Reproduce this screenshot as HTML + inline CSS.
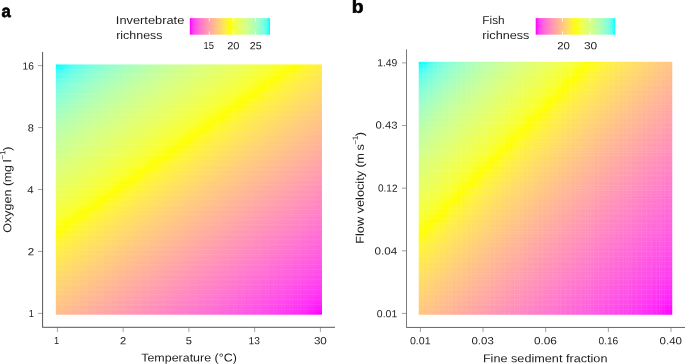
<!DOCTYPE html>
<html><head><meta charset="utf-8"><title>Figure</title>
<style>
html,body{margin:0;padding:0;background:#fff;}
body{width:685px;height:364px;position:relative;overflow:hidden;font-family:"Liberation Sans",sans-serif;color:#1c1c1c;}
.hm{position:absolute;overflow:hidden;}
.hm i{position:absolute;left:0;width:100%;display:block;}
.hm b{position:absolute;display:block;background:#fff;}
.hm u{position:absolute;left:0;top:0;width:100%;height:100%;display:block;}
.t{position:absolute;left:0;top:0;white-space:nowrap;line-height:1;transform-origin:0 0;}
.tx{position:absolute;left:0;top:0;width:685px;height:364px;filter:grayscale(1);}
sup{font-size:66%;line-height:0;vertical-align:baseline;position:relative;top:-0.8em;}
</style></head><body>
<div class="hm" style="left:55px;top:64px;width:267px;height:251px"><i style="top:0px;height:3px;background:linear-gradient(90deg,#0ff 0%,#57fff0 6.7%,#7bffe0 13.3%,#93ffd0 20%,#a6ffc0 26.7%,#b5ffb0 33.3%,#c2ffa1 40%,#ceff92 46.7%,#d8ff82 53.3%,#e0ff72 60%,#e8ff62 66.7%,#f0ff50 73.3%,#f6ff3b 80%,#fcff1d 86.7%,#ff0 89.6%,#fff927 93.3%,#ffef44 100%)"></i><i style="top:3px;height:2px;background:linear-gradient(90deg,#18fffe 0%,#60ffed 6.7%,#80ffdc 13.3%,#97ffcc 20%,#a9ffbd 26.7%,#b8ffad 33.3%,#c5ff9e 40%,#d0ff8f 46.7%,#d9ff7f 53.3%,#e2ff6f 60%,#eaff5f 66.7%,#f1ff4c 73.3%,#f8ff36 80%,#feff13 86.7%,#ff0 88.2%,#fff72e 93.3%,#ffed48 100%)"></i><i style="top:5px;height:3px;background:linear-gradient(90deg,#32fffa 0%,#68ffea 6.7%,#85ffd9 13.3%,#9bffc9 20%,#acffba 26.7%,#bfa 33.3%,#c7ff9b 40%,#d2ff8c 46.7%,#dbff7c 53.3%,#e4ff6c 60%,#ebff5b 66.7%,#f2ff48 73.3%,#f9ff31 80%,#ffff03 86.7%,#ff0 86.9%,#fff535 93.3%,#ffeb4c 100%)"></i><i style="top:8px;height:2px;background:linear-gradient(90deg,#41fff7 0%,#6fffe6 6.7%,#8affd6 13.3%,#9fffc6 20%,#b0ffb7 26.7%,#bdffa7 33.3%,#c9ff98 40%,#d4ff88 46.7%,#ddff79 53.3%,#e5ff69 60%,#edff57 66.7%,#f4ff44 73.3%,#faff2b 80%,#ff0 85.6%,#fffd12 86.7%,#fff33a 93.3%,#ffe950 100%)"></i><i style="top:10px;height:3px;background:linear-gradient(90deg,#4dfff3 0%,#75ffe3 6.7%,#8fffd3 13.3%,#a3ffc3 20%,#b2ffb3 26.7%,#c0ffa4 33.3%,#ccff95 40%,#d6ff85 46.7%,#dfff76 53.3%,#e7ff65 60%,#eeff54 66.7%,#f5ff40 73.3%,#fbff25 80%,#ff0 84.2%,#fffb1e 86.7%,#fff13f 93.3%,#ffe754 100%)"></i><i style="top:13px;height:2px;background:linear-gradient(90deg,#57fff0 0%,#7bffe0 6.7%,#93ffd0 13.3%,#a6ffc0 20%,#b5ffb0 26.7%,#c2ffa1 33.3%,#ceff92 40%,#d8ff82 46.7%,#e0ff72 53.3%,#e8ff62 60%,#f0ff50 66.7%,#f6ff3b 73.3%,#fdff1d 80%,#ff0 82.9%,#fff927 86.7%,#ffef44 93.3%,#ffe557 100%)"></i><i style="top:15px;height:3px;background:linear-gradient(90deg,#60ffed 0%,#80ffdc 6.7%,#97ffcc 13.3%,#a9ffbd 20%,#b8ffad 26.7%,#c5ff9e 33.3%,#d0ff8f 40%,#d9ff7f 46.7%,#e2ff6f 53.3%,#eaff5e 60%,#f1ff4c 66.7%,#f8ff36 73.3%,#feff13 80%,#ff0 81.5%,#fff72e 86.7%,#ffed48 93.3%,#ffe35b 100%)"></i><i style="top:18px;height:2px;background:linear-gradient(90deg,#68ffe9 0%,#86ffd9 6.7%,#9bffc9 13.3%,#acffba 20%,#bfa 26.7%,#c7ff9b 33.3%,#d2ff8b 40%,#dbff7c 46.7%,#e4ff6c 53.3%,#ebff5b 60%,#f2ff48 66.7%,#f9ff31 73.3%,#ffff03 80%,#ff0 80.2%,#fff535 86.7%,#ffeb4c 93.3%,#ffe15e 100%)"></i><i style="top:20px;height:3px;background:linear-gradient(90deg,#6fffe6 0%,#8affd6 6.7%,#9fffc6 13.3%,#b0ffb6 20%,#bdffa7 26.7%,#c9ff98 33.3%,#d4ff88 40%,#ddff79 46.7%,#e5ff69 53.3%,#edff57 60%,#f4ff44 66.7%,#faff2b 73.3%,#ff0 78.9%,#fffd12 80%,#fff33a 86.7%,#ffe950 93.3%,#ffdf61 100%)"></i><i style="top:23px;height:2px;background:linear-gradient(90deg,#75ffe3 0%,#8fffd3 6.7%,#a3ffc3 13.3%,#b3ffb3 20%,#c0ffa4 26.7%,#ccff95 33.3%,#d6ff85 40%,#dfff76 46.7%,#e7ff65 53.3%,#eeff54 60%,#f5ff40 66.7%,#fbff25 73.3%,#ff0 77.5%,#fffb1e 80%,#fff13f 86.7%,#ffe754 93.3%,#ffdd64 100%)"></i><i style="top:25px;height:3px;background:linear-gradient(90deg,#7bffe0 0%,#93ffd0 6.7%,#a6ffc0 13.3%,#b5ffb0 20%,#c2ffa1 26.7%,#ceff92 33.3%,#d8ff82 40%,#e1ff72 46.7%,#e9ff62 53.3%,#f0ff50 60%,#f6ff3b 66.7%,#fdff1d 73.3%,#ff0 76.2%,#fff927 80%,#ffef44 86.7%,#ffe557 93.3%,#ffdb67 100%)"></i><i style="top:28px;height:2px;background:linear-gradient(90deg,#81ffdc 0%,#97ffcc 6.7%,#a9ffbd 13.3%,#b8ffad 20%,#c5ff9e 26.7%,#d0ff8e 33.3%,#daff7f 40%,#e2ff6f 46.7%,#eaff5e 53.3%,#f1ff4c 60%,#f8ff36 66.7%,#feff13 73.3%,#ff0 74.9%,#fff72f 80%,#ffed48 86.7%,#ffe35b 93.3%,#ffd96a 100%)"></i><i style="top:30px;height:3px;background:linear-gradient(90deg,#86ffd9 0%,#9bffc9 6.7%,#adffba 13.3%,#bfa 20%,#c7ff9b 26.7%,#d2ff8b 33.3%,#dbff7c 40%,#e4ff6c 46.7%,#ecff5b 53.3%,#f3ff48 60%,#f9ff31 66.7%,#ffff02 73.3%,#ff0 73.5%,#fff535 80%,#ffeb4c 86.7%,#ffe15e 93.3%,#ffd76d 100%)"></i><i style="top:33px;height:2px;background:linear-gradient(90deg,#8affd6 0%,#9fffc6 6.7%,#b0ffb6 13.3%,#bdffa7 20%,#c9ff98 26.7%,#d4ff88 33.3%,#ddff79 40%,#e5ff69 46.7%,#edff57 53.3%,#f4ff44 60%,#faff2b 66.7%,#ff0 72.2%,#fffd12 73.3%,#fff33a 80%,#ffe950 86.7%,#ffdf61 93.3%,#ffd570 100%)"></i><i style="top:35px;height:3px;background:linear-gradient(90deg,#8fffd3 0%,#a3ffc3 6.7%,#b3ffb3 13.3%,#c0ffa4 20%,#ccff95 26.7%,#d6ff85 33.3%,#dfff75 40%,#e7ff65 46.7%,#eeff54 53.3%,#f5ff40 60%,#fbff25 66.7%,#ff0 70.8%,#fffb1f 73.3%,#fff13f 80%,#ffe754 86.7%,#ffdd64 93.3%,#ffd372 100%)"></i><i style="top:38px;height:2px;background:linear-gradient(90deg,#93ffcf 0%,#a6ffc0 6.7%,#b5ffb0 13.3%,#c2ffa1 20%,#ceff92 26.7%,#d8ff82 33.3%,#e1ff72 40%,#e9ff62 46.7%,#f0ff50 53.3%,#f6ff3b 60%,#fdff1d 66.7%,#ff0 69.5%,#fff928 73.3%,#ffef44 80%,#ffe558 86.7%,#ffdb67 93.3%,#ffd175 100%)"></i><i style="top:40px;height:3px;background:linear-gradient(90deg,#97ffcc 0%,#a9ffbd 6.7%,#b8ffad 13.3%,#c5ff9e 20%,#d0ff8e 26.7%,#daff7f 33.3%,#e2ff6f 40%,#eaff5e 46.7%,#f1ff4c 53.3%,#f8ff36 60%,#feff13 66.7%,#ff0 68.2%,#fff72f 73.3%,#ffed48 80%,#ffe35b 86.7%,#ffd96a 93.3%,#ffcf77 100%)"></i><i style="top:43px;height:2px;background:linear-gradient(90deg,#9bffc9 0%,#adffb9 6.7%,#bfa 13.3%,#c7ff9b 20%,#d2ff8b 26.7%,#dbff7c 33.3%,#e4ff6c 40%,#ecff5b 46.7%,#f3ff48 53.3%,#f9ff31 60%,#ffff02 66.7%,#ff0 66.8%,#fff535 73.3%,#ffeb4c 80%,#ffe15e 86.7%,#ffd76d 93.3%,#ffcd7a 100%)"></i><i style="top:45px;height:3px;background:linear-gradient(90deg,#9fffc6 0%,#b0ffb6 6.7%,#beffa7 13.3%,#c9ff98 20%,#d4ff88 26.7%,#ddff79 33.3%,#e5ff68 40%,#edff57 46.7%,#f4ff44 53.3%,#faff2b 60%,#ff0 65.5%,#fffd13 66.7%,#fff33a 73.3%,#ffe950 80%,#ffdf61 86.7%,#ffd570 93.3%,#ffcb7c 100%)"></i><i style="top:48px;height:2px;background:linear-gradient(90deg,#a3ffc3 0%,#b3ffb3 6.7%,#c0ffa4 13.3%,#ccff95 20%,#d6ff85 26.7%,#dfff75 33.3%,#e7ff65 40%,#eeff54 46.7%,#f5ff3f 53.3%,#fbff24 60%,#ff0 64.1%,#fffb1f 66.7%,#fff140 73.3%,#ffe754 80%,#ffdd64 86.7%,#ffd372 93.3%,#ffca7f 100%)"></i><i style="top:50px;height:3px;background:linear-gradient(90deg,#a6ffc0 0%,#b6ffb0 6.7%,#c3ffa1 13.3%,#ceff91 20%,#d8ff82 26.7%,#e1ff72 33.3%,#e9ff62 40%,#f0ff50 46.7%,#f6ff3b 53.3%,#fdff1d 60%,#ff0 62.8%,#fff928 66.7%,#ffef44 73.3%,#ffe558 80%,#ffdb67 86.7%,#ffd175 93.3%,#ffc881 100%)"></i><i style="top:53px;height:2px;background:linear-gradient(90deg,#a9ffbd 0%,#b8ffad 6.7%,#c5ff9e 13.3%,#d0ff8e 20%,#daff7f 26.7%,#e2ff6f 33.3%,#eaff5e 40%,#f1ff4c 46.7%,#f8ff36 53.3%,#feff12 60%,#ff0 61.5%,#fff72f 66.7%,#ffed48 73.3%,#ffe35b 80%,#ffd96a 86.7%,#ffcf77 93.3%,#ffc683 100%)"></i><i style="top:55px;height:3px;background:linear-gradient(90deg,#adffb9 0%,#bfa 6.7%,#c7ff9b 13.3%,#d2ff8b 20%,#dbff7c 26.7%,#e4ff6c 33.3%,#ecff5b 40%,#f3ff48 46.7%,#f9ff31 53.3%,#ffff02 60%,#ff0 60.1%,#fff535 66.7%,#ffeb4d 73.3%,#ffe15e 80%,#ffd76d 86.7%,#ffcd7a 93.3%,#ffc486 100%)"></i><i style="top:58px;height:2px;background:linear-gradient(90deg,#b0ffb6 0%,#beffa7 6.7%,#c9ff98 13.3%,#d4ff88 20%,#ddff79 26.7%,#e5ff68 33.3%,#edff57 40%,#f4ff44 46.7%,#faff2b 53.3%,#ff0 58.8%,#fffd13 60%,#fff33b 66.7%,#ffe950 73.3%,#ffdf61 80%,#ffd570 86.7%,#ffcb7c 93.3%,#ffc288 100%)"></i><i style="top:60px;height:3px;background:linear-gradient(90deg,#b3ffb3 0%,#c0ffa4 6.7%,#ccff94 13.3%,#d6ff85 20%,#dfff75 26.7%,#e7ff65 33.3%,#eeff53 40%,#f5ff3f 46.7%,#fbff24 53.3%,#ff0 57.5%,#fffb1f 60%,#fff140 66.7%,#ffe754 73.3%,#ffdd64 80%,#ffd372 86.7%,#ffc97f 93.3%,#ffc08a 100%)"></i><i style="top:63px;height:2px;background:linear-gradient(90deg,#b6ffb0 0%,#c3ffa1 6.7%,#ceff91 13.3%,#d8ff82 20%,#e1ff72 26.7%,#e9ff62 33.3%,#f0ff50 40%,#f6ff3b 46.7%,#fdff1c 53.3%,#ff0 56.1%,#fff928 60%,#ffef44 66.7%,#ffe558 73.3%,#ffdb67 80%,#ffd175 86.7%,#ffc881 93.3%,#ffbe8c 100%)"></i><i style="top:65px;height:3px;background:linear-gradient(90deg,#b8ffad 0%,#c5ff9e 6.7%,#d0ff8e 13.3%,#daff7f 20%,#e2ff6f 26.7%,#eaff5e 33.3%,#f1ff4c 40%,#f8ff36 46.7%,#feff12 53.3%,#ff0 54.8%,#fff72f 60%,#ffed49 66.7%,#ffe35b 73.3%,#ffd96a 80%,#ffcf77 86.7%,#ffc683 93.3%,#ffbc8e 100%)"></i><i style="top:68px;height:2px;background:linear-gradient(90deg,#bfa 0%,#c7ff9b 6.7%,#d2ff8b 13.3%,#dbff7c 20%,#e4ff6c 26.7%,#ecff5b 33.3%,#f3ff48 40%,#f9ff31 46.7%,#ffff01 53.3%,#ff0 53.4%,#fff535 60%,#ffeb4d 66.7%,#ffe15e 73.3%,#ffd76d 80%,#ffcd7a 86.7%,#ffc486 93.3%,#ffba91 100%)"></i><i style="top:70px;height:3px;background:linear-gradient(90deg,#beffa7 0%,#caff97 6.7%,#d4ff88 13.3%,#ddff78 20%,#e6ff68 26.7%,#edff57 33.3%,#f4ff44 40%,#faff2b 46.7%,#ff0 52.1%,#fffd13 53.3%,#fff33b 60%,#ffe951 66.7%,#ffdf61 73.3%,#ffd570 80%,#ffcb7c 86.7%,#ffc288 93.3%,#ffb893 100%)"></i><i style="top:73px;height:3px;background:linear-gradient(90deg,#c0ffa4 0%,#ccff94 6.7%,#d6ff85 13.3%,#dfff75 20%,#e7ff65 26.7%,#eeff53 33.3%,#f5ff3f 40%,#fbff24 46.7%,#ff0 50.8%,#fffb1f 53.3%,#fff140 60%,#ffe754 66.7%,#ffdd64 73.3%,#ffd372 80%,#ffc97f 86.7%,#ffc08a 93.3%,#ffb695 100%)"></i><i style="top:76px;height:2px;background:linear-gradient(90deg,#c3ffa1 0%,#ceff91 6.7%,#d8ff82 13.3%,#e1ff72 20%,#e9ff62 26.7%,#f0ff50 33.3%,#f7ff3b 40%,#fdff1c 46.7%,#ff0 49.4%,#fff928 53.3%,#ffef44 60%,#ffe558 66.7%,#ffdb67 73.3%,#ffd175 80%,#ffc881 86.7%,#ffbe8c 93.3%,#ffb597 100%)"></i><i style="top:78px;height:3px;background:linear-gradient(90deg,#c5ff9e 0%,#d0ff8e 6.7%,#daff7f 13.3%,#e2ff6f 20%,#eaff5e 26.7%,#f1ff4c 33.3%,#f8ff36 40%,#feff12 46.7%,#ff0 48.1%,#fff72f 53.3%,#ffed49 60%,#ffe35b 66.7%,#ffd96a 73.3%,#ffcf78 80%,#ffc684 86.7%,#ffbc8f 93.3%,#ffb399 100%)"></i><i style="top:81px;height:2px;background:linear-gradient(90deg,#c7ff9b 0%,#d2ff8b 6.7%,#dbff7c 13.3%,#e4ff6c 20%,#ecff5b 26.7%,#f3ff48 33.3%,#f9ff30 40%,#ffff01 46.7%,#ff0 46.7%,#fff535 53.3%,#ffeb4d 60%,#ffe15e 66.7%,#ffd76d 73.3%,#ffcd7a 80%,#ffc486 86.7%,#ffba91 93.3%,#ffb19b 100%)"></i><i style="top:83px;height:3px;background:linear-gradient(90deg,#caff97 0%,#d4ff88 6.7%,#ddff78 13.3%,#e6ff68 20%,#edff57 26.7%,#f4ff44 33.3%,#faff2b 40%,#ff0 45.4%,#fffd14 46.7%,#fff33b 53.3%,#ffe951 60%,#ffdf61 66.7%,#ffd570 73.3%,#ffcb7c 80%,#ffc288 86.7%,#ffb893 93.3%,#ffaf9d 100%)"></i><i style="top:86px;height:2px;background:linear-gradient(90deg,#ccff94 0%,#d6ff85 6.7%,#dfff75 13.3%,#e7ff65 20%,#eeff53 26.7%,#f5ff3f 33.3%,#fbff24 40%,#ff0 44.1%,#fffb1f 46.7%,#fff140 53.3%,#ffe754 60%,#ffdd65 66.7%,#ffd372 73.3%,#ffc97f 80%,#ffc08a 86.7%,#ffb695 93.3%,#ffad9f 100%)"></i><i style="top:88px;height:3px;background:linear-gradient(90deg,#ceff91 0%,#d8ff82 6.7%,#e1ff72 13.3%,#e9ff62 20%,#f0ff50 26.7%,#f7ff3b 33.3%,#fdff1c 40%,#ff0 42.7%,#fff928 46.7%,#ffef44 53.3%,#ffe558 60%,#ffdb67 66.7%,#ffd175 73.3%,#ffc781 80%,#ffbe8c 86.7%,#ffb597 93.3%,#ffaba1 100%)"></i><i style="top:91px;height:2px;background:linear-gradient(90deg,#d0ff8e 0%,#daff7f 6.7%,#e2ff6f 13.3%,#eaff5e 20%,#f1ff4c 26.7%,#f8ff36 33.3%,#feff12 40%,#ff0 41.4%,#fff72f 46.7%,#ffed49 53.3%,#ffe35b 60%,#ffd96a 66.7%,#ffcf78 73.3%,#ffc684 80%,#ffbc8f 86.7%,#ffb399 93.3%,#ffa9a2 100%)"></i><i style="top:93px;height:3px;background:linear-gradient(90deg,#d2ff8b 0%,#dcff7c 6.7%,#e4ff6c 13.3%,#ecff5b 20%,#f3ff48 26.7%,#f9ff30 33.3%,#ffff01 40%,#ff0 40.1%,#fff535 46.7%,#ffeb4d 53.3%,#ffe15e 60%,#ffd76d 66.7%,#ffcd7a 73.3%,#ffc486 80%,#ffba91 86.7%,#ffb19b 93.3%,#ffa7a4 100%)"></i><i style="top:96px;height:2px;background:linear-gradient(90deg,#d4ff88 0%,#ddff78 6.7%,#e6ff68 13.3%,#edff57 20%,#f4ff43 26.7%,#faff2a 33.3%,#ff0 38.7%,#fffd14 40%,#fff33b 46.7%,#ffe951 53.3%,#ffdf62 60%,#ffd570 66.7%,#ffcb7d 73.3%,#ffc288 80%,#ffb893 86.7%,#ffaf9d 93.3%,#ffa6a6 100%)"></i><i style="top:98px;height:3px;background:linear-gradient(90deg,#d6ff85 0%,#dfff75 6.7%,#e7ff65 13.3%,#efff53 20%,#f5ff3f 26.7%,#fbff24 33.3%,#ff0 37.4%,#fffb20 40%,#fff140 46.7%,#ffe754 53.3%,#ffdd65 60%,#ffd372 66.7%,#ffc97f 73.3%,#ffc08a 80%,#ffb695 86.7%,#ffad9f 93.3%,#ffa4a8 100%)"></i><i style="top:101px;height:2px;background:linear-gradient(90deg,#d8ff82 0%,#e1ff72 6.7%,#e9ff61 13.3%,#f0ff4f 20%,#f7ff3a 26.7%,#fdff1c 33.3%,#ff0 36%,#fff928 40%,#ffef44 46.7%,#ffe558 53.3%,#ffdb68 60%,#ffd175 66.7%,#ffc781 73.3%,#ffbe8c 80%,#ffb597 86.7%,#ffaba1 93.3%,#ffa2aa 100%)"></i><i style="top:103px;height:3px;background:linear-gradient(90deg,#daff7f 0%,#e2ff6f 6.7%,#eaff5e 13.3%,#f1ff4c 20%,#f8ff36 26.7%,#feff11 33.3%,#ff0 34.7%,#fff72f 40%,#ffed49 46.7%,#ffe35b 53.3%,#ffd96a 60%,#ffcf78 66.7%,#ffc684 73.3%,#ffbc8f 80%,#ffb399 86.7%,#ffa9a3 93.3%,#ffa0ac 100%)"></i><i style="top:106px;height:2px;background:linear-gradient(90deg,#dcff7b 0%,#e4ff6b 6.7%,#ecff5a 13.3%,#f3ff48 20%,#f9ff30 26.7%,#ff0 33.3%,#ff0 33.4%,#fff535 40%,#ffeb4d 46.7%,#ffe15e 53.3%,#ffd76d 60%,#ffcd7a 66.7%,#ffc486 73.3%,#ffba91 80%,#ffb19b 86.7%,#ffa7a4 93.3%,#ff9ead 100%)"></i><i style="top:108px;height:3px;background:linear-gradient(90deg,#ddff78 0%,#e6ff68 6.7%,#edff57 13.3%,#f4ff43 20%,#faff2a 26.7%,#ff0 32%,#fffd14 33.3%,#fff33b 40%,#ffe951 46.7%,#ffdf62 53.3%,#ffd570 60%,#ffcb7d 66.7%,#ffc288 73.3%,#ffb893 80%,#ffaf9d 86.7%,#ffa6a6 93.3%,#ff9caf 100%)"></i><i style="top:111px;height:2px;background:linear-gradient(90deg,#dfff75 0%,#e7ff65 6.7%,#efff53 13.3%,#f5ff3f 20%,#fbff24 26.7%,#ff0 30.7%,#fffb20 33.3%,#fff140 40%,#ffe754 46.7%,#ffdd65 53.3%,#ffd373 60%,#ffc97f 66.7%,#ffc08a 73.3%,#ffb695 80%,#ffad9f 86.7%,#ffa4a8 93.3%,#ff9ab1 100%)"></i><i style="top:113px;height:3px;background:linear-gradient(90deg,#e1ff72 0%,#e9ff61 6.7%,#f0ff4f 13.3%,#f7ff3a 20%,#fdff1c 26.7%,#ff0 29.4%,#fff928 33.3%,#ffef45 40%,#ffe558 46.7%,#ffdb68 53.3%,#ffd175 60%,#ffc781 66.7%,#ffbe8d 73.3%,#ffb597 80%,#ffaba1 86.7%,#ffa2aa 93.3%,#ff98b3 100%)"></i><i style="top:116px;height:2px;background:linear-gradient(90deg,#e2ff6f 0%,#eaff5e 6.7%,#f1ff4c 13.3%,#f8ff35 20%,#feff11 26.7%,#ff0 28%,#fff72f 33.3%,#ffed49 40%,#ffe35b 46.7%,#ffd96a 53.3%,#ffcf78 60%,#ffc584 66.7%,#ffbc8f 73.3%,#ffb399 80%,#ffa9a3 86.7%,#ffa0ac 93.3%,#ff97b4 100%)"></i><i style="top:118px;height:3px;background:linear-gradient(90deg,#e4ff6b 0%,#ecff5a 6.7%,#f3ff48 13.3%,#f9ff30 20%,#ff0 26.7%,#ff0 26.7%,#fff536 33.3%,#ffeb4d 40%,#ffe15e 46.7%,#ffd76d 53.3%,#ffcd7a 60%,#ffc486 66.7%,#ffba91 73.3%,#ffb19b 80%,#ffa7a4 86.7%,#ff9ead 93.3%,#ff95b6 100%)"></i><i style="top:121px;height:2px;background:linear-gradient(90deg,#e6ff68 0%,#edff57 6.7%,#f4ff43 13.3%,#faff2a 20%,#ff0 25.3%,#fffd14 26.7%,#fff33b 33.3%,#ffe951 40%,#ffdf62 46.7%,#ffd570 53.3%,#ffcb7d 60%,#ffc288 66.7%,#ffb893 73.3%,#ffaf9d 80%,#ffa6a6 86.7%,#ff9caf 93.3%,#ff93b8 100%)"></i><i style="top:123px;height:3px;background:linear-gradient(90deg,#e7ff65 0%,#efff53 6.7%,#f5ff3f 13.3%,#fcff24 20%,#ff0 24%,#fffb20 26.7%,#fff140 33.3%,#ffe754 40%,#ffdd65 46.7%,#ffd373 53.3%,#ffc97f 60%,#ffc08a 66.7%,#ffb695 73.3%,#ffad9f 80%,#ffa4a8 86.7%,#ff9ab1 93.3%,#ff91b9 100%)"></i><i style="top:126px;height:2px;background:linear-gradient(90deg,#e9ff61 0%,#f0ff4f 6.7%,#f7ff3a 13.3%,#fdff1c 20%,#ff0 22.7%,#fff929 26.7%,#ffef45 33.3%,#ffe558 40%,#ffdb68 46.7%,#ffd175 53.3%,#ffc781 60%,#ffbe8d 66.7%,#ffb497 73.3%,#ffaba1 80%,#ffa2aa 86.7%,#ff98b3 93.3%,#ff8fbb 100%)"></i><i style="top:128px;height:3px;background:linear-gradient(90deg,#eaff5e 0%,#f1ff4b 6.7%,#f8ff35 13.3%,#feff11 20%,#ff0 21.3%,#fff730 26.7%,#ffed49 33.3%,#ffe35b 40%,#ffd96a 46.7%,#ffcf78 53.3%,#ffc584 60%,#ffbc8f 66.7%,#ffb399 73.3%,#ffa9a3 80%,#ffa0ac 86.7%,#ff97b4 93.3%,#ff8dbd 100%)"></i><i style="top:131px;height:2px;background:linear-gradient(90deg,#ecff5a 0%,#f3ff47 6.7%,#f9ff30 13.3%,#ff0 20%,#ff0 20%,#fff536 26.7%,#ffeb4d 33.3%,#ffe15f 40%,#ffd76d 46.7%,#ffcd7a 53.3%,#ffc486 60%,#ffba91 66.7%,#ffb19b 73.3%,#ffa7a4 80%,#ff9eae 86.7%,#ff95b6 93.3%,#ff8bbe 100%)"></i><i style="top:133px;height:3px;background:linear-gradient(90deg,#edff57 0%,#f4ff43 6.7%,#faff2a 13.3%,#ff0 18.6%,#fffd15 20%,#fff33b 26.7%,#ffe951 33.3%,#ffdf62 40%,#ffd570 46.7%,#ffcb7d 53.3%,#ffc288 60%,#ffb893 66.7%,#ffaf9d 73.3%,#ffa6a6 80%,#ff9caf 86.7%,#ff93b8 93.3%,#ff89c0 100%)"></i><i style="top:136px;height:2px;background:linear-gradient(90deg,#efff53 0%,#f5ff3f 6.7%,#fcff23 13.3%,#ff0 17.3%,#fffb20 20%,#fff140 26.7%,#ffe755 33.3%,#ffdd65 40%,#ffd373 46.7%,#ffc97f 53.3%,#ffc08a 60%,#ffb695 66.7%,#ffad9f 73.3%,#ffa4a8 80%,#ff9ab1 86.7%,#ff91ba 93.3%,#ff87c2 100%)"></i><i style="top:138px;height:3px;background:linear-gradient(90deg,#f0ff4f 0%,#f7ff3a 6.7%,#fdff1b 13.3%,#ff0 16%,#fff929 20%,#ffef45 26.7%,#ffe558 33.3%,#ffdb68 40%,#ffd175 46.7%,#ffc781 53.3%,#ffbe8d 60%,#ffb497 66.7%,#ffaba1 73.3%,#ffa2aa 80%,#ff98b3 86.7%,#ff8fbb 93.3%,#ff86c3 100%)"></i><i style="top:141px;height:2px;background:linear-gradient(90deg,#f1ff4b 0%,#f8ff35 6.7%,#feff11 13.3%,#ff0 14.6%,#fff730 20%,#ffed49 26.7%,#ffe35b 33.3%,#ffd96b 40%,#ffcf78 46.7%,#ffc584 53.3%,#ffbc8f 60%,#ffb399 66.7%,#ffa9a3 73.3%,#ffa0ac 80%,#ff97b4 86.7%,#ff8dbd 93.3%,#ff84c5 100%)"></i><i style="top:143px;height:3px;background:linear-gradient(90deg,#f3ff47 0%,#f9ff30 6.7%,#ff0 13.3%,#ffff01 13.3%,#fff536 20%,#ffea4d 26.7%,#ffe15f 33.3%,#ffd76d 40%,#ffcd7a 46.7%,#ffc486 53.3%,#ffba91 60%,#ffb19b 66.7%,#ffa7a5 73.3%,#ff9eae 80%,#ff95b6 86.7%,#ff8bbe 93.3%,#ff82c6 100%)"></i><i style="top:146px;height:2px;background:linear-gradient(90deg,#f4ff43 0%,#faff2a 6.7%,#ff0 12%,#fffd15 13.3%,#fff33b 20%,#ffe851 26.7%,#ffdf62 33.3%,#ffd570 40%,#ffcb7d 46.7%,#ffc288 53.3%,#ffb893 60%,#ffaf9d 66.7%,#ffa5a6 73.3%,#ff9caf 80%,#ff93b8 86.7%,#ff89c0 93.3%,#ff80c8 100%)"></i><i style="top:148px;height:3px;background:linear-gradient(90deg,#f5ff3f 0%,#fcff23 6.7%,#ff0 10.6%,#fffb20 13.3%,#fff140 20%,#ffe655 26.7%,#ffdd65 33.3%,#ffd373 40%,#ffc97f 46.7%,#ffc08a 53.3%,#ffb695 60%,#ffad9f 66.7%,#ffa4a8 73.3%,#ff9ab1 80%,#ff91ba 86.7%,#ff87c2 93.3%,#ff7ec9 100%)"></i><i style="top:151px;height:2px;background:linear-gradient(90deg,#f7ff3a 0%,#fdff1b 6.7%,#ff0 9.3%,#fff929 13.3%,#ffef45 20%,#ffe458 26.7%,#ffdb68 33.3%,#ffd175 40%,#ffc781 46.7%,#ffbe8d 53.3%,#ffb497 60%,#ffaba1 66.7%,#ffa2aa 73.3%,#ff98b3 80%,#ff8fbb 86.7%,#ff86c3 93.3%,#ff7ccb 100%)"></i><i style="top:153px;height:3px;background:linear-gradient(90deg,#f8ff35 0%,#feff10 6.7%,#ff0 7.9%,#fff730 13.3%,#ffec49 20%,#ffe25b 26.7%,#ffd96b 33.3%,#ffcf78 40%,#ffc584 46.7%,#ffbc8f 53.3%,#ffb399 60%,#ffa9a3 66.7%,#ffa0ac 73.3%,#ff97b5 80%,#ff8dbd 86.7%,#ff84c5 93.3%,#ff7acd 100%)"></i><i style="top:156px;height:2px;background:linear-gradient(90deg,#f9ff30 0%,#ff0 6.6%,#ffff01 6.7%,#fff536 13.3%,#ffea4d 20%,#ffe15f 26.7%,#ffd76d 33.3%,#ffcd7a 40%,#ffc386 46.7%,#ffba91 53.3%,#ffb19b 60%,#ffa7a5 66.7%,#ff9eae 73.3%,#ff95b6 80%,#ff8bbe 86.7%,#ff82c6 93.3%,#ff78ce 100%)"></i><i style="top:158px;height:3px;background:linear-gradient(90deg,#faff2a 0%,#ff0 5.3%,#fffd15 6.7%,#fff33b 13.3%,#ffe851 20%,#ffdf62 26.7%,#ffd570 33.3%,#ffcb7d 40%,#ffc288 46.7%,#ffb893 53.3%,#ffaf9d 60%,#ffa5a6 66.7%,#ff9caf 73.3%,#ff93b8 80%,#ff89c0 86.7%,#ff80c8 93.3%,#ff76d0 100%)"></i><i style="top:161px;height:2px;background:linear-gradient(90deg,#fcff23 0%,#ff0 3.9%,#fffb20 6.7%,#fff040 13.3%,#ffe655 20%,#ffdd65 26.7%,#ffd373 33.3%,#ffc97f 40%,#ffc08a 46.7%,#ffb695 53.3%,#ffad9f 60%,#ffa4a8 66.7%,#ff9ab1 73.3%,#ff91ba 80%,#ff87c2 86.7%,#ff7eca 93.3%,#ff74d1 100%)"></i><i style="top:163px;height:3px;background:linear-gradient(90deg,#fdff1b 0%,#ff0 2.6%,#fff929 6.7%,#ffee45 13.3%,#ffe458 20%,#ffdb68 26.7%,#ffd175 33.3%,#ffc782 40%,#ffbe8d 46.7%,#ffb497 53.3%,#ffaba1 60%,#ffa2aa 66.7%,#ff98b3 73.3%,#ff8fbb 80%,#ff85c3 86.7%,#ff7ccb 93.3%,#ff72d3 100%)"></i><i style="top:166px;height:2px;background:linear-gradient(90deg,#feff10 0%,#ff0 1.2%,#fff730 6.7%,#ffec49 13.3%,#ffe25b 20%,#ffd96b 26.7%,#ffcf78 33.3%,#ffc584 40%,#ffbc8f 46.7%,#ffb299 53.3%,#ffa9a3 60%,#ffa0ac 66.7%,#ff96b5 73.3%,#ff8dbd 80%,#ff84c5 86.7%,#ff7acd 93.3%,#ff70d4 100%)"></i><i style="top:168px;height:3px;background:linear-gradient(90deg,#ffff02 0%,#fff536 6.7%,#ffea4d 13.3%,#ffe05f 20%,#ffd76d 26.7%,#ffcd7a 33.3%,#ffc386 40%,#ffba91 46.7%,#ffb19b 53.3%,#ffa7a5 60%,#ff9eae 66.7%,#ff95b6 73.3%,#ff8bbf 80%,#ff82c6 86.7%,#ff78ce 93.3%,#ff6ed5 100%)"></i><i style="top:171px;height:2px;background:linear-gradient(90deg,#fffd15 0%,#fff33b 6.7%,#ffe851 13.3%,#ffde62 20%,#ffd570 26.7%,#ffcb7d 33.3%,#ffc288 40%,#ffb893 46.7%,#ffaf9d 53.3%,#ffa5a6 60%,#ff9caf 66.7%,#ff93b8 73.3%,#ff89c0 80%,#ff80c8 86.7%,#ff76d0 93.3%,#ff6cd7 100%)"></i><i style="top:173px;height:3px;background:linear-gradient(90deg,#fffb21 0%,#fff040 6.7%,#ffe655 13.3%,#ffdd65 20%,#ffd373 26.7%,#ffc97f 33.3%,#ffc08b 40%,#ffb695 46.7%,#ffad9f 53.3%,#ffa4a8 60%,#ff9ab1 66.7%,#ff91ba 73.3%,#ff87c2 80%,#ff7eca 86.7%,#ff74d1 93.3%,#ff6ad8 100%)"></i><i style="top:176px;height:2px;background:linear-gradient(90deg,#fff929 0%,#ffee45 6.7%,#ffe458 13.3%,#ffdb68 20%,#ffd175 26.7%,#ffc782 33.3%,#ffbe8d 40%,#ffb497 46.7%,#ffaba1 53.3%,#ffa2aa 60%,#ff98b3 66.7%,#ff8fbb 73.3%,#ff85c3 80%,#ff7ccb 86.7%,#ff72d3 93.3%,#ff68da 100%)"></i><i style="top:178px;height:3px;background:linear-gradient(90deg,#fff730 0%,#ffec49 6.7%,#ffe25c 13.3%,#ffd96b 20%,#ffcf78 26.7%,#ffc584 33.3%,#ffbc8f 40%,#ffb299 46.7%,#ffa9a3 53.3%,#ffa0ac 60%,#ff96b5 66.7%,#ff8dbd 73.3%,#ff84c5 80%,#ff7acd 86.7%,#ff70d4 93.3%,#ff66db 100%)"></i><i style="top:181px;height:2px;background:linear-gradient(90deg,#fff536 0%,#ffea4d 6.7%,#ffe05f 13.3%,#ffd76d 20%,#ffcd7a 26.7%,#ffc386 33.3%,#ffba91 40%,#ffb19b 46.7%,#ffa7a5 53.3%,#ff9eae 60%,#ff95b6 66.7%,#ff8bbf 73.3%,#ff82c6 80%,#ff78ce 86.7%,#ff6ed5 93.3%,#ff63dd 100%)"></i><i style="top:183px;height:3px;background:linear-gradient(90deg,#fff23c 0%,#ffe851 6.7%,#ffde62 13.3%,#ffd570 20%,#ffcb7d 26.7%,#ffc288 33.3%,#ffb893 40%,#ffaf9d 46.7%,#ffa5a6 53.3%,#ff9caf 60%,#ff93b8 66.7%,#ff89c0 73.3%,#ff80c8 80%,#ff76d0 86.7%,#ff6cd7 93.3%,#ff61de 100%)"></i><i style="top:186px;height:2px;background:linear-gradient(90deg,#fff040 0%,#ffe655 6.7%,#ffdc65 13.3%,#ffd373 20%,#ffc97f 26.7%,#ffc08b 33.3%,#ffb695 40%,#ffad9f 46.7%,#ffa3a8 53.3%,#ff9ab1 60%,#ff91ba 66.7%,#ff87c2 73.3%,#ff7eca 80%,#ff74d1 86.7%,#ff6ad8 93.3%,#ff5fdf 100%)"></i><i style="top:188px;height:3px;background:linear-gradient(90deg,#ffee45 0%,#ffe458 6.7%,#ffdb68 13.3%,#ffd175 20%,#ffc782 26.7%,#ffbe8d 33.3%,#ffb497 40%,#ffaba1 46.7%,#ffa2aa 53.3%,#ff98b3 60%,#ff8fbb 66.7%,#ff85c3 73.3%,#ff7ccb 80%,#ff72d3 86.7%,#ff68da 93.3%,#ff5de1 100%)"></i><i style="top:191px;height:2px;background:linear-gradient(90deg,#ffec49 0%,#ffe25c 6.7%,#ffd96b 13.3%,#ffcf78 20%,#ffc584 26.7%,#ffbc8f 33.3%,#ffb299 40%,#ffa9a3 46.7%,#ffa0ac 53.3%,#ff96b5 60%,#ff8dbd 66.7%,#ff84c5 73.3%,#ff7acd 80%,#ff70d4 86.7%,#ff66db 93.3%,#ff5be2 100%)"></i><i style="top:193px;height:3px;background:linear-gradient(90deg,#ffea4d 0%,#ffe05f 6.7%,#ffd76e 13.3%,#ffcd7a 20%,#ffc386 26.7%,#ffba91 33.3%,#ffb19b 40%,#ffa7a5 46.7%,#ff9eae 53.3%,#ff95b6 60%,#ff8bbf 66.7%,#ff82c7 73.3%,#ff78ce 80%,#ff6ed6 86.7%,#ff63dd 93.3%,#ff58e4 100%)"></i><i style="top:196px;height:2px;background:linear-gradient(90deg,#ffe851 0%,#ffde62 6.7%,#ffd570 13.3%,#ffcb7d 20%,#ffc188 26.7%,#ffb893 33.3%,#ffaf9d 40%,#ffa5a6 46.7%,#ff9caf 53.3%,#ff93b8 60%,#ff89c0 66.7%,#ff80c8 73.3%,#ff76d0 80%,#ff6cd7 86.7%,#ff61de 93.3%,#ff56e5 100%)"></i><i style="top:198px;height:3px;background:linear-gradient(90deg,#ffe655 0%,#ffdc65 6.7%,#ffd373 13.3%,#ffc97f 20%,#ffc08b 26.7%,#ffb695 33.3%,#ffad9f 40%,#ffa3a8 46.7%,#ff9ab1 53.3%,#ff91ba 60%,#ff87c2 66.7%,#ff7eca 73.3%,#ff74d1 80%,#ff6ad8 86.7%,#ff5fdf 93.3%,#ff54e6 100%)"></i><i style="top:201px;height:2px;background:linear-gradient(90deg,#ffe458 0%,#ffda68 6.7%,#ffd175 13.3%,#ffc782 20%,#ffbe8d 26.7%,#ffb497 33.3%,#ffaba1 40%,#ffa2aa 46.7%,#ff98b3 53.3%,#ff8fbb 60%,#ff85c3 66.7%,#ff7ccb 73.3%,#ff72d3 80%,#ff68da 86.7%,#ff5de1 93.3%,#ff51e8 100%)"></i><i style="top:203px;height:3px;background:linear-gradient(90deg,#ffe25c 0%,#ffd96b 6.7%,#ffcf78 13.3%,#ffc584 20%,#ffbc8f 26.7%,#ffb299 33.3%,#ffa9a3 40%,#ffa0ac 46.7%,#ff96b5 53.3%,#ff8dbd 60%,#ff83c5 66.7%,#ff7acd 73.3%,#ff70d4 80%,#ff65db 86.7%,#ff5be2 93.3%,#ff4fe9 100%)"></i><i style="top:206px;height:2px;background:linear-gradient(90deg,#ffe05f 0%,#ffd76e 6.7%,#ffcd7a 13.3%,#ffc386 20%,#ffba91 26.7%,#ffb19b 33.3%,#ffa7a5 40%,#ff9eae 46.7%,#ff94b6 53.3%,#ff8bbf 60%,#ff82c7 66.7%,#ff78ce 73.3%,#ff6ed6 80%,#ff63dd 86.7%,#ff58e4 93.3%,#ff4cea 100%)"></i><i style="top:208px;height:3px;background:linear-gradient(90deg,#ffde62 0%,#ffd570 6.7%,#ffcb7d 13.3%,#ffc188 20%,#ffb893 26.7%,#ffaf9d 33.3%,#ffa5a7 40%,#ff9caf 46.7%,#ff93b8 53.3%,#ff89c0 60%,#ff80c8 66.7%,#ff76d0 73.3%,#ff6cd7 80%,#ff61de 86.7%,#ff56e5 93.3%,#ff4aec 100%)"></i><i style="top:211px;height:2px;background:linear-gradient(90deg,#ffdc65 0%,#ffd373 6.7%,#ffc97f 13.3%,#ffc08b 20%,#ffb695 26.7%,#ffad9f 33.3%,#ffa3a8 40%,#ff9ab1 46.7%,#ff91ba 53.3%,#ff87c2 60%,#ff7eca 66.7%,#ff74d1 73.3%,#ff6ad8 80%,#ff5fdf 86.7%,#ff54e6 93.3%,#ff47ed 100%)"></i><i style="top:213px;height:3px;background:linear-gradient(90deg,#ffda68 0%,#ffd176 6.7%,#ffc782 13.3%,#ffbe8d 20%,#ffb497 26.7%,#ffaba1 33.3%,#ffa2aa 40%,#ff98b3 46.7%,#ff8fbb 53.3%,#ff85c3 60%,#ff7ccb 66.7%,#ff72d3 73.3%,#ff68da 80%,#ff5de1 86.7%,#ff51e8 93.3%,#f4e 100%)"></i><i style="top:216px;height:2px;background:linear-gradient(90deg,#ffd86b 0%,#ffcf78 6.7%,#ffc584 13.3%,#ffbc8f 20%,#ffb299 26.7%,#ffa9a3 33.3%,#ffa0ac 40%,#ff96b5 46.7%,#ff8dbd 53.3%,#ff83c5 60%,#ff7acd 66.7%,#ff70d4 73.3%,#ff65db 80%,#ff5be2 86.7%,#ff4fe9 93.3%,#ff41ef 100%)"></i><i style="top:218px;height:3px;background:linear-gradient(90deg,#ffd76e 0%,#ffcd7b 6.7%,#ffc386 13.3%,#ffba91 20%,#ffb09b 26.7%,#ffa7a5 33.3%,#ff9eae 40%,#ff94b6 46.7%,#ff8bbf 53.3%,#ff82c7 60%,#ff78ce 66.7%,#ff6ed6 73.3%,#ff63dd 80%,#ff58e4 86.7%,#ff4cea 93.3%,#ff3ef1 100%)"></i><i style="top:221px;height:2px;background:linear-gradient(90deg,#ffd570 0%,#ffcb7d 6.7%,#ffc188 13.3%,#ffb893 20%,#ffaf9d 26.7%,#ffa5a7 33.3%,#ff9cb0 40%,#ff93b8 46.7%,#ff89c0 53.3%,#ff80c8 60%,#ff76d0 66.7%,#ff6cd7 73.3%,#ff61de 80%,#ff56e5 86.7%,#ff4aec 93.3%,#ff3bf2 100%)"></i><i style="top:223px;height:3px;background:linear-gradient(90deg,#ffd373 0%,#ffc97f 6.7%,#ffc08b 13.3%,#ffb695 20%,#ffad9f 26.7%,#ffa3a8 33.3%,#ff9ab1 40%,#ff91ba 46.7%,#ff87c2 53.3%,#ff7eca 60%,#ff74d1 66.7%,#ff6ad8 73.3%,#ff5fdf 80%,#ff54e6 86.7%,#ff47ed 93.3%,#ff38f3 100%)"></i><i style="top:226px;height:2px;background:linear-gradient(90deg,#ffd176 0%,#ffc782 6.7%,#ffbe8d 13.3%,#ffb497 20%,#ffaba1 26.7%,#ffa2aa 33.3%,#ff98b3 40%,#ff8fbb 46.7%,#ff85c3 53.3%,#ff7ccb 60%,#ff72d3 66.7%,#ff68da 73.3%,#ff5de1 80%,#ff51e8 86.7%,#f4e 93.3%,#ff35f4 100%)"></i><i style="top:228px;height:3px;background:linear-gradient(90deg,#ffcf78 0%,#ffc584 6.7%,#ffbc8f 13.3%,#ffb299 20%,#ffa9a3 26.7%,#ffa0ac 33.3%,#ff96b5 40%,#ff8dbd 46.7%,#ff83c5 53.3%,#ff7acd 60%,#ff70d4 66.7%,#ff65db 73.3%,#ff5ae2 80%,#ff4fe9 86.7%,#ff41ef 93.3%,#ff31f6 100%)"></i><i style="top:231px;height:2px;background:linear-gradient(90deg,#ffcd7b 0%,#ffc386 6.7%,#ffba91 13.3%,#ffb09b 20%,#ffa7a5 26.7%,#ff9eae 33.3%,#ff94b6 40%,#ff8bbf 46.7%,#ff81c7 53.3%,#ff78ce 60%,#ff6ed6 66.7%,#ff63dd 73.3%,#ff58e4 80%,#ff4cea 86.7%,#ff3ef1 93.3%,#ff2ef7 100%)"></i><i style="top:233px;height:3px;background:linear-gradient(90deg,#ffcb7d 0%,#ffc189 6.7%,#ffb893 13.3%,#ffaf9d 20%,#ffa5a7 26.7%,#ff9cb0 33.3%,#ff93b8 40%,#ff89c0 46.7%,#ff80c8 53.3%,#ff76d0 60%,#ff6cd7 66.7%,#ff61de 73.3%,#ff56e5 80%,#ff4aec 86.7%,#ff3bf2 93.3%,#ff29f8 100%)"></i><i style="top:236px;height:2px;background:linear-gradient(90deg,#ffc97f 0%,#ffbf8b 6.7%,#ffb695 13.3%,#ffad9f 20%,#ffa3a8 26.7%,#ff9ab1 33.3%,#ff91ba 40%,#ff87c2 46.7%,#ff7eca 53.3%,#ff74d1 60%,#ff6ad8 66.7%,#ff5fdf 73.3%,#ff53e6 80%,#ff47ed 86.7%,#ff38f3 93.3%,#ff25f9 100%)"></i><i style="top:238px;height:3px;background:linear-gradient(90deg,#ffc782 0%,#ffbe8d 6.7%,#ffb497 13.3%,#ffaba1 20%,#ffa1aa 26.7%,#ff98b3 33.3%,#ff8fbb 40%,#ff85c3 46.7%,#ff7ccb 53.3%,#ff72d3 60%,#ff67da 66.7%,#ff5de1 73.3%,#ff51e8 80%,#f4e 86.7%,#ff35f4 93.3%,#ff20fb 100%)"></i><i style="top:241px;height:2px;background:linear-gradient(90deg,#ffc584 0%,#ffbc8f 6.7%,#ffb299 13.3%,#ffa9a3 20%,#ffa0ac 26.7%,#ff96b5 33.3%,#ff8dbd 40%,#ff83c5 46.7%,#ff7acd 53.3%,#ff70d4 60%,#ff65db 66.7%,#ff5ae2 73.3%,#ff4fe9 80%,#ff41ef 86.7%,#ff31f6 93.3%,#ff1afc 100%)"></i><i style="top:243px;height:3px;background:linear-gradient(90deg,#ffc386 0%,#ffba91 6.7%,#ffb09b 13.3%,#ffa7a5 20%,#ff9eae 26.7%,#ff94b6 33.3%,#ff8bbf 40%,#ff81c7 46.7%,#ff78ce 53.3%,#ff6ed6 60%,#ff63dd 66.7%,#ff58e4 73.3%,#ff4cea 80%,#ff3ef1 86.7%,#ff2df7 93.3%,#ff13fd 100%)"></i><i style="top:246px;height:2px;background:linear-gradient(90deg,#ffc189 0%,#ffb893 6.7%,#ffaf9d 13.3%,#ffa5a7 20%,#ff9cb0 26.7%,#ff93b8 33.3%,#ff89c0 40%,#ff7fc8 46.7%,#ff76d0 53.3%,#ff6cd7 60%,#ff61de 66.7%,#ff56e5 73.3%,#ff49ec 80%,#ff3bf2 86.7%,#ff29f8 93.3%,#ff08fe 100%)"></i><i style="top:248px;height:3px;background:linear-gradient(90deg,#ffbf8b 0%,#ffb695 6.7%,#ffad9f 13.3%,#ffa3a8 20%,#ff9ab1 26.7%,#ff91ba 33.3%,#ff87c2 40%,#ff7eca 46.7%,#ff74d1 53.3%,#ff6ad8 60%,#ff5fe0 66.7%,#ff53e6 73.3%,#ff47ed 80%,#ff38f3 86.7%,#ff25f9 93.3%,#f0f 100%)"></i><b style="left:0px;top:0px;width:267px;height:1px;opacity:0.40"></b><b style="left:0px;top:250px;width:267px;height:1px;opacity:0.25"></b><b style="left:0px;top:0px;width:1px;height:251px;opacity:0.80"></b><u style="background:repeating-linear-gradient(90deg,rgba(255,255,255,0.030) 0,rgba(255,255,255,0.030) 0.6px,rgba(255,255,255,0) 0.6px,rgba(255,255,255,0) 2.662px),repeating-linear-gradient(0deg,rgba(255,255,255,0.050) 0,rgba(255,255,255,0.050) 0.6px,rgba(255,255,255,0) 0.6px,rgba(255,255,255,0) 2.503px)"></u></div>
<div class="hm" style="left:418px;top:61px;width:255px;height:254px"><i style="top:0px;height:3px;background:linear-gradient(90deg,#0ff 0%,#66ffea 6.7%,#8dffd4 13.3%,#a7ffbe 20%,#bfa 26.7%,#cbff95 33.3%,#d9ff80 40%,#e4ff6b 46.7%,#ef5 53.3%,#f6ff3b 60%,#feff0d 66.7%,#ff0 67.4%,#fff439 73.3%,#ffe754 80%,#ffdb67 86.7%,#ffcf78 93.3%,#ffc486 100%)"></i><i style="top:3px;height:3px;background:linear-gradient(90deg,#10fffe 0%,#6dffe7 6.7%,#92ffd1 13.3%,#abffbb 20%,#beffa6 26.7%,#cdff92 33.3%,#daff7d 40%,#e6ff68 46.7%,#efff52 53.3%,#f8ff36 60%,#ff0 66.5%,#ffff05 66.7%,#fff23e 73.3%,#ffe557 80%,#ffd96a 86.7%,#ffcd7a 93.3%,#ffc288 100%)"></i><i style="top:6px;height:2px;background:linear-gradient(90deg,#2efffb 0%,#74ffe4 6.7%,#96ffce 13.3%,#aeffb8 20%,#c0ffa3 26.7%,#d0ff8f 33.3%,#dcff7a 40%,#e7ff65 46.7%,#f0ff4e 53.3%,#f9ff31 60%,#ff0 65.5%,#fffd16 66.7%,#fff042 73.3%,#ffe35a 80%,#ffd76c 86.7%,#ffcc7c 93.3%,#ffc08a 100%)"></i><i style="top:8px;height:3px;background:linear-gradient(90deg,#3ffff7 0%,#7affe0 6.7%,#9affca 13.3%,#b1ffb5 20%,#c3ffa0 26.7%,#d2ff8c 33.3%,#deff77 40%,#e9ff62 46.7%,#f2ff4a 53.3%,#faff2c 60%,#ff0 64.5%,#fffb21 66.7%,#ffee46 73.3%,#ffe25d 80%,#ffd66f 86.7%,#ffca7e 93.3%,#ffbf8c 100%)"></i><i style="top:11px;height:2px;background:linear-gradient(90deg,#4cfff4 0%,#7fffdd 6.7%,#9effc7 13.3%,#b4ffb2 20%,#c5ff9d 26.7%,#d3ff89 33.3%,#e0ff74 40%,#eaff5f 46.7%,#f3ff46 53.3%,#fbff26 60%,#ff0 63.5%,#fff928 66.7%,#ffec4a 73.3%,#ffe060 80%,#ffd471 86.7%,#ffc880 93.3%,#ffbd8e 100%)"></i><i style="top:13px;height:3px;background:linear-gradient(90deg,#57fff0 0%,#85ffda 6.7%,#a1ffc4 13.3%,#b7ffaf 20%,#c7ff9a 26.7%,#d5ff86 33.3%,#e1ff71 40%,#ebff5b 46.7%,#f4ff42 53.3%,#fcff1f 60%,#ff0 62.5%,#fff72f 66.7%,#ffea4e 73.3%,#ffde63 80%,#ffd274 86.7%,#ffc782 93.3%,#ffbb8f 100%)"></i><i style="top:16px;height:3px;background:linear-gradient(90deg,#5fffed 0%,#89ffd7 6.7%,#a5ffc1 13.3%,#b9ffac 20%,#caff97 26.7%,#d7ff83 33.3%,#e3ff6e 40%,#edff58 46.7%,#f6ff3e 53.3%,#fdff16 60%,#ff0 61.5%,#fff535 66.7%,#ffe851 73.3%,#ffdc65 80%,#ffd076 86.7%,#ffc584 93.3%,#ffba91 100%)"></i><i style="top:19px;height:2px;background:linear-gradient(90deg,#67ffea 0%,#8effd3 6.7%,#a8ffbe 13.3%,#bcffa9 20%,#ccff94 26.7%,#d9ff80 33.3%,#e4ff6b 40%,#eeff54 46.7%,#f7ff3a 53.3%,#feff09 60%,#ff0 60.5%,#fff33a 66.7%,#ffe754 73.3%,#ffda68 80%,#ffcf78 86.7%,#ffc386 93.3%,#ffb893 100%)"></i><i style="top:21px;height:3px;background:linear-gradient(90deg,#6effe6 0%,#93ffd0 6.7%,#abffbb 13.3%,#beffa6 20%,#ceff91 26.7%,#dbff7d 33.3%,#e6ff68 40%,#efff51 46.7%,#f8ff35 53.3%,#ff0 59.6%,#fffe0a 60%,#fff13f 66.7%,#ffe558 73.3%,#ffd96b 80%,#ffcd7a 86.7%,#ffc288 93.3%,#ffb795 100%)"></i><i style="top:24px;height:2px;background:linear-gradient(90deg,#75ffe3 0%,#97ffcd 6.7%,#afffb8 13.3%,#c1ffa3 20%,#d0ff8e 26.7%,#ddff7a 33.3%,#e7ff64 40%,#f1ff4d 46.7%,#f9ff30 53.3%,#ff0 58.6%,#fffc19 60%,#ffef43 66.7%,#ffe35b 73.3%,#ffd76d 80%,#ffcb7d 86.7%,#ffc08a 93.3%,#ffb596 100%)"></i><i style="top:26px;height:3px;background:linear-gradient(90deg,#7bffe0 0%,#9bffca 6.7%,#b2ffb4 13.3%,#c3ffa0 20%,#d2ff8b 26.7%,#deff77 33.3%,#e9ff61 40%,#f2ff49 46.7%,#faff2b 53.3%,#ff0 57.6%,#fffa23 60%,#ffee47 66.7%,#ffe15e 73.3%,#ffd56f 80%,#ffca7f 86.7%,#ffbe8c 93.3%,#ffb398 100%)"></i><i style="top:29px;height:2px;background:linear-gradient(90deg,#81ffdc 0%,#9effc6 6.7%,#b4ffb1 13.3%,#c6ff9d 20%,#d4ff88 26.7%,#e0ff73 33.3%,#eaff5e 40%,#f3ff45 46.7%,#fbff24 53.3%,#ff0 56.6%,#fff82a 60%,#ffec4b 66.7%,#ffdf60 73.3%,#ffd372 80%,#ffc881 86.7%,#ffbd8e 93.3%,#ffb29a 100%)"></i><i style="top:31px;height:3px;background:linear-gradient(90deg,#86ffd9 0%,#a2ffc3 6.7%,#b7ffae 13.3%,#c8ff9a 20%,#d6ff85 26.7%,#e2ff70 33.3%,#ecff5a 40%,#f5ff41 46.7%,#fcff1d 53.3%,#ff0 55.6%,#fff630 60%,#ffea4e 66.7%,#ffde63 73.3%,#ffd274 80%,#ffc683 86.7%,#ffbb90 93.3%,#ffb09c 100%)"></i><i style="top:34px;height:2px;background:linear-gradient(90deg,#8bffd6 0%,#a6ffc0 6.7%,#baffab 13.3%,#caff97 20%,#d8ff82 26.7%,#e3ff6d 33.3%,#edff57 40%,#f6ff3d 46.7%,#feff14 53.3%,#ff0 54.6%,#fff536 60%,#ffe852 66.7%,#ffdc66 73.3%,#ffd076 80%,#ffc585 86.7%,#ffb992 93.3%,#ffae9d 100%)"></i><i style="top:36px;height:3px;background:linear-gradient(90deg,#8fffd3 0%,#a9ffbd 6.7%,#bdffa8 13.3%,#ccff94 20%,#d9ff7f 26.7%,#e5ff6a 33.3%,#eeff53 40%,#f7ff39 46.7%,#ffff06 53.3%,#ff0 53.7%,#fff33b 60%,#ffe655 66.7%,#ffda69 73.3%,#ffce79 80%,#ffc387 86.7%,#ffb893 93.3%,#ffad9f 100%)"></i><i style="top:39px;height:2px;background:linear-gradient(90deg,#94ffcf 0%,#acffba 6.7%,#bfffa5 13.3%,#ceff91 20%,#dbff7c 26.7%,#e6ff67 33.3%,#f0ff50 40%,#f8ff34 46.7%,#ff0 52.7%,#fffe0e 53.3%,#fff140 60%,#ffe458 66.7%,#ffd86b 73.3%,#ffcd7b 80%,#ffc189 86.7%,#ffb695 93.3%,#ffaba1 100%)"></i><i style="top:41px;height:3px;background:linear-gradient(90deg,#98ffcc 0%,#afffb7 6.7%,#c2ffa2 13.3%,#d0ff8e 20%,#ddff79 26.7%,#e8ff64 33.3%,#f1ff4c 40%,#f9ff2f 46.7%,#ff0 51.7%,#fffc1b 53.3%,#ffef44 60%,#ffe35b 66.7%,#ffd76e 73.3%,#ffcb7d 80%,#ffc08b 86.7%,#ffb597 93.3%,#ffaaa2 100%)"></i><i style="top:44px;height:2px;background:linear-gradient(90deg,#9cffc9 0%,#b2ffb4 6.7%,#c4ff9f 13.3%,#d2ff8b 20%,#dfff76 26.7%,#e9ff60 33.3%,#f2ff48 40%,#fbff29 46.7%,#ff0 50.7%,#fffa24 53.3%,#ffed48 60%,#ffe15e 66.7%,#ffd570 73.3%,#ffc97f 80%,#ffbe8c 86.7%,#ffb399 93.3%,#ffa8a4 100%)"></i><i style="top:46px;height:3px;background:linear-gradient(90deg,#9fffc6 0%,#b5ffb1 6.7%,#c6ff9c 13.3%,#d4ff87 20%,#e0ff73 26.7%,#ebff5d 33.3%,#f4ff45 40%,#fcff23 46.7%,#ff0 49.7%,#fff82c 53.3%,#ffeb4c 60%,#ffdf61 66.7%,#ffd372 73.3%,#ffc881 80%,#ffbc8e 86.7%,#ffb19a 93.3%,#ffa7a5 100%)"></i><i style="top:49px;height:2px;background:linear-gradient(90deg,#a3ffc3 0%,#b8ffae 6.7%,#c8ff99 13.3%,#d6ff84 20%,#e2ff70 26.7%,#ecff5a 33.3%,#f5ff40 40%,#fdff1b 46.7%,#ff0 48.7%,#fff632 53.3%,#ffe94f 60%,#ffdd64 66.7%,#ffd175 73.3%,#ffc683 80%,#ffbb90 86.7%,#ffb09c 93.3%,#ffa5a7 100%)"></i><i style="top:51px;height:3px;background:linear-gradient(90deg,#a6ffbf 0%,#bfa 6.7%,#cbff96 13.3%,#d8ff81 20%,#e3ff6c 26.7%,#edff56 33.3%,#f6ff3c 40%,#feff11 46.7%,#ff0 47.7%,#fff437 53.3%,#ffe853 60%,#ffdb67 66.7%,#ffd077 73.3%,#ffc485 80%,#ffb992 86.7%,#ffae9e 93.3%,#ffa3a8 100%)"></i><i style="top:54px;height:2px;background:linear-gradient(90deg,#aaffbc 0%,#bdffa7 6.7%,#cdff93 13.3%,#daff7e 20%,#e5ff69 26.7%,#efff53 33.3%,#f7ff38 40%,#ffff02 46.7%,#ff0 46.8%,#fff23c 53.3%,#ffe656 60%,#ffda69 66.7%,#ffce79 73.3%,#ffc387 80%,#ffb794 86.7%,#ffad9f 93.3%,#ffa2aa 100%)"></i><i style="top:56px;height:3px;background:linear-gradient(90deg,#adffb9 0%,#c0ffa4 6.7%,#cfff90 13.3%,#dcff7b 20%,#e7ff66 26.7%,#f0ff4f 33.3%,#f8ff33 40%,#ff0 45.8%,#fffd12 46.7%,#fff041 53.3%,#ffe459 60%,#ffd86c 66.7%,#ffcc7b 73.3%,#ffc189 80%,#ffb696 86.7%,#ffaba1 93.3%,#ffa0ab 100%)"></i><i style="top:59px;height:3px;background:linear-gradient(90deg,#b0ffb6 0%,#c2ffa1 6.7%,#d1ff8d 13.3%,#ddff78 20%,#e8ff63 26.7%,#f1ff4b 33.3%,#faff2e 40%,#ff0 44.8%,#fffb1e 46.7%,#ffef45 53.3%,#ffe25c 60%,#ffd66e 66.7%,#ffcb7d 73.3%,#ffbf8b 80%,#ffb497 86.7%,#ffa9a2 93.3%,#ff9fad 100%)"></i><i style="top:62px;height:2px;background:linear-gradient(90deg,#b3ffb3 0%,#c4ff9e 6.7%,#d3ff8a 13.3%,#dfff75 20%,#eaff60 26.7%,#f3ff48 33.3%,#fbff28 40%,#ff0 43.8%,#fff926 46.7%,#ffed49 53.3%,#ffe05f 60%,#ffd471 66.7%,#ffc980 73.3%,#ffbe8d 80%,#ffb399 86.7%,#ffa8a4 93.3%,#ff9dae 100%)"></i><i style="top:64px;height:3px;background:linear-gradient(90deg,#b6ffb0 0%,#c7ff9b 6.7%,#d5ff87 13.3%,#e1ff72 20%,#ebff5c 26.7%,#f4ff44 33.3%,#fcff21 40%,#ff0 42.8%,#fff72d 46.7%,#ffeb4c 53.3%,#ffdf62 60%,#ffd373 66.7%,#ffc782 73.3%,#ffbc8f 80%,#ffb19b 86.7%,#ffa6a6 93.3%,#ff9cb0 100%)"></i><i style="top:67px;height:2px;background:linear-gradient(90deg,#b8ffad 0%,#c9ff98 6.7%,#d7ff84 13.3%,#e2ff6f 20%,#ecff59 26.7%,#f5ff3f 33.3%,#fdff19 40%,#ff0 41.8%,#fff633 46.7%,#ffe950 53.3%,#ffdd64 60%,#ffd175 66.7%,#ffc584 73.3%,#ffba91 80%,#ffaf9c 86.7%,#ffa5a7 93.3%,#ff9ab1 100%)"></i><i style="top:69px;height:3px;background:linear-gradient(90deg,#bfa 0%,#cbff95 6.7%,#d8ff81 13.3%,#e4ff6c 20%,#ef5 26.7%,#f6ff3b 33.3%,#feff0e 40%,#ff0 40.9%,#fff438 46.7%,#ffe753 53.3%,#ffdb67 60%,#ffcf77 66.7%,#ffc486 73.3%,#ffb992 80%,#ffae9e 86.7%,#ffa3a9 93.3%,#ff99b3 100%)"></i><i style="top:72px;height:2px;background:linear-gradient(90deg,#beffa7 0%,#cdff92 6.7%,#daff7e 13.3%,#e5ff69 20%,#efff52 26.7%,#f8ff37 33.3%,#ff0 39.9%,#ffff03 40%,#fff23d 46.7%,#ffe557 53.3%,#ffd96a 60%,#ffce7a 66.7%,#ffc288 73.3%,#ffb794 80%,#ffaca0 86.7%,#ffa1aa 93.3%,#ff97b4 100%)"></i><i style="top:74px;height:3px;background:linear-gradient(90deg,#c0ffa4 0%,#cfff8f 6.7%,#dcff7b 13.3%,#e7ff65 20%,#f0ff4e 26.7%,#f9ff32 33.3%,#ff0 38.9%,#fffd15 40%,#fff042 46.7%,#ffe45a 53.3%,#ffd86c 60%,#ffcc7c 66.7%,#ffc08a 73.3%,#ffb596 80%,#ffaba1 86.7%,#ffa0ac 93.3%,#ff95b6 100%)"></i><i style="top:77px;height:2px;background:linear-gradient(90deg,#c3ffa1 0%,#d1ff8c 6.7%,#deff78 13.3%,#e8ff62 20%,#f2ff4b 26.7%,#faff2c 33.3%,#ff0 37.9%,#fffb20 40%,#ffee46 46.7%,#ffe25d 53.3%,#ffd66f 60%,#ffca7e 66.7%,#ffbf8b 73.3%,#ffb498 80%,#ffa9a3 86.7%,#ff9ead 93.3%,#ff94b7 100%)"></i><i style="top:79px;height:3px;background:linear-gradient(90deg,#c5ff9e 0%,#d3ff89 6.7%,#dfff74 13.3%,#eaff5f 20%,#f3ff47 26.7%,#fbff26 33.3%,#ff0 36.9%,#fff928 40%,#ffec4a 46.7%,#ffe060 53.3%,#ffd471 60%,#ffc880 66.7%,#ffbd8d 73.3%,#ffb299 80%,#ffa7a4 86.7%,#ff9daf 93.3%,#ff92b8 100%)"></i><i style="top:82px;height:2px;background:linear-gradient(90deg,#c7ff9b 0%,#d5ff86 6.7%,#e1ff71 13.3%,#ebff5b 20%,#f4ff43 26.7%,#fcff20 33.3%,#ff0 35.9%,#fff72e 40%,#ffea4d 46.7%,#ffde62 53.3%,#ffd273 60%,#ffc782 66.7%,#ffbc8f 73.3%,#ffb19b 80%,#ffa6a6 86.7%,#ff9bb0 93.3%,#ff91ba 100%)"></i><i style="top:84px;height:3px;background:linear-gradient(90deg,#c9ff98 0%,#d7ff83 6.7%,#e3ff6e 13.3%,#edff58 20%,#f5ff3f 26.7%,#fdff17 33.3%,#ff0 34.9%,#fff534 40%,#ffe951 46.7%,#ffdc65 53.3%,#ffd176 60%,#ffc584 66.7%,#ffba91 73.3%,#ffaf9d 80%,#ffa4a8 86.7%,#ff9ab2 93.3%,#ff8fbb 100%)"></i><i style="top:87px;height:2px;background:linear-gradient(90deg,#ccff95 0%,#d9ff80 6.7%,#e4ff6b 13.3%,#ef5 20%,#f7ff3a 26.7%,#feff0b 33.3%,#ff0 34%,#fff339 40%,#ffe754 46.7%,#ffdb68 53.3%,#ffcf78 60%,#ffc386 66.7%,#ffb893 73.3%,#ffad9e 80%,#ffa3a9 86.7%,#ff98b3 93.3%,#ff8ebc 100%)"></i><i style="top:89px;height:3px;background:linear-gradient(90deg,#ceff92 0%,#dbff7d 6.7%,#e6ff68 13.3%,#efff51 20%,#f8ff36 26.7%,#ff0 33%,#fffe08 33.3%,#fff13e 40%,#ffe557 46.7%,#ffd96a 53.3%,#ffcd7a 60%,#ffc288 66.7%,#ffb795 73.3%,#ffaca0 80%,#ffa1ab 86.7%,#ff97b4 93.3%,#ff8cbe 100%)"></i><i style="top:92px;height:2px;background:linear-gradient(90deg,#d0ff8f 0%,#dcff7a 6.7%,#e7ff65 13.3%,#f1ff4d 20%,#f9ff31 26.7%,#ff0 32%,#fffc18 33.3%,#fff043 40%,#ffe35a 46.7%,#ffd76d 53.3%,#ffcb7c 60%,#ffc08a 66.7%,#ffb596 73.3%,#ffaaa2 80%,#ffa0ac 86.7%,#ff95b6 93.3%,#ff8bbf 100%)"></i><i style="top:94px;height:3px;background:linear-gradient(90deg,#d2ff8b 0%,#deff77 6.7%,#e9ff61 13.3%,#f2ff4a 20%,#faff2b 26.7%,#ff0 31%,#fffa22 33.3%,#ffee47 40%,#ffe15d 46.7%,#ffd56f 53.3%,#ffca7e 60%,#ffbe8c 66.7%,#ffb398 73.3%,#ffa9a3 80%,#ff9eae 86.7%,#ff94b7 93.3%,#ff89c0 100%)"></i><i style="top:97px;height:2px;background:linear-gradient(90deg,#d4ff88 0%,#e0ff74 6.7%,#eaff5e 13.3%,#f3ff46 20%,#fbff25 26.7%,#ff0 30%,#fff929 33.3%,#ffec4a 40%,#ffe060 46.7%,#ffd472 53.3%,#ffc881 60%,#ffbd8e 66.7%,#ffb29a 73.3%,#ffa7a5 80%,#ff9caf 86.7%,#ff92b9 93.3%,#ff88c2 100%)"></i><i style="top:99px;height:3px;background:linear-gradient(90deg,#d6ff85 0%,#e1ff71 6.7%,#ecff5b 13.3%,#f4ff42 20%,#fcff1e 26.7%,#ff0 29%,#fff730 33.3%,#ffea4e 40%,#ffde63 46.7%,#ffd274 53.3%,#ffc683 60%,#ffbb90 66.7%,#ffb09b 73.3%,#ffa5a6 80%,#ff9bb0 86.7%,#ff90ba 93.3%,#ff86c3 100%)"></i><i style="top:102px;height:3px;background:linear-gradient(90deg,#d8ff82 0%,#e3ff6d 6.7%,#edff57 13.3%,#f6ff3e 20%,#fdff15 26.7%,#ff0 28.1%,#fff535 33.3%,#ffe852 40%,#ffdc66 46.7%,#ffd076 53.3%,#ffc585 60%,#ffba91 66.7%,#ffaf9d 73.3%,#ffa4a8 80%,#ff99b2 86.7%,#ff8fbb 93.3%,#ff85c4 100%)"></i><i style="top:105px;height:2px;background:linear-gradient(90deg,#d9ff7f 0%,#e5ff6a 6.7%,#eeff54 13.3%,#f7ff39 20%,#ffff07 26.7%,#ff0 27.1%,#fff33b 33.3%,#ffe655 40%,#ffda68 46.7%,#ffce78 53.3%,#ffc387 60%,#ffb893 66.7%,#ffad9f 73.3%,#ffa2a9 80%,#ff98b3 86.7%,#ff8dbd 93.3%,#ff83c5 100%)"></i><i style="top:107px;height:3px;background:linear-gradient(90deg,#dbff7c 0%,#e6ff67 6.7%,#f0ff50 13.3%,#f8ff34 20%,#ff0 26.1%,#fffe0d 26.7%,#fff13f 33.3%,#ffe558 40%,#ffd86b 46.7%,#ffcd7b 53.3%,#ffc189 60%,#ffb695 66.7%,#ffaba0 73.3%,#ffa1ab 80%,#ff96b5 86.7%,#ff8cbe 93.3%,#ff81c7 100%)"></i><i style="top:110px;height:2px;background:linear-gradient(90deg,#ddff79 0%,#e8ff64 6.7%,#f1ff4d 13.3%,#f9ff2f 20%,#ff0 25.1%,#fffc1a 26.7%,#ffef43 33.3%,#ffe35b 40%,#ffd76d 46.7%,#ffcb7d 53.3%,#ffc08a 60%,#ffb597 66.7%,#ffaaa2 73.3%,#ff9fac 80%,#ff95b6 86.7%,#ff8abf 93.3%,#ff80c8 100%)"></i><i style="top:112px;height:3px;background:linear-gradient(90deg,#dfff76 0%,#e9ff61 6.7%,#f2ff49 13.3%,#faff2a 20%,#ff0 24.1%,#fffa24 26.7%,#ffed47 33.3%,#ffe15e 40%,#ffd570 46.7%,#ffc97f 53.3%,#ffbe8c 60%,#ffb398 66.7%,#ffa8a4 73.3%,#ff9eae 80%,#ff93b8 86.7%,#ff89c1 93.3%,#ff7ec9 100%)"></i><i style="top:115px;height:2px;background:linear-gradient(90deg,#e0ff73 0%,#eaff5d 6.7%,#f4ff45 13.3%,#fcff23 20%,#ff0 23.1%,#fff82b 26.7%,#ffeb4b 33.3%,#ffdf61 40%,#ffd372 46.7%,#ffc881 53.3%,#ffbc8e 60%,#ffb19a 66.7%,#ffa7a5 73.3%,#ff9caf 80%,#ff92b9 86.7%,#ff87c2 93.3%,#ff7dca 100%)"></i><i style="top:117px;height:3px;background:linear-gradient(90deg,#e2ff70 0%,#ecff5a 6.7%,#f5ff41 13.3%,#fdff1c 20%,#ff0 22.2%,#fff631 26.7%,#ffea4f 33.3%,#ffdd64 40%,#ffd274 46.7%,#ffc683 53.3%,#ffbb90 60%,#ffb09c 66.7%,#ffa5a7 73.3%,#ff9bb1 80%,#ff90ba 86.7%,#ff86c3 93.3%,#ff7bcb 100%)"></i><i style="top:120px;height:2px;background:linear-gradient(90deg,#e3ff6d 0%,#edff56 6.7%,#f6ff3d 13.3%,#feff12 20%,#ff0 21.2%,#fff437 26.7%,#ffe852 33.3%,#ffdc66 40%,#ffd077 46.7%,#ffc485 53.3%,#ffb992 60%,#ffae9d 66.7%,#ffa4a8 73.3%,#ff99b2 80%,#ff8fbc 86.7%,#ff84c4 93.3%,#ff7acd 100%)"></i><i style="top:122px;height:3px;background:linear-gradient(90deg,#e5ff6a 0%,#efff53 6.7%,#f7ff38 13.3%,#ffff03 20%,#ff0 20.2%,#fff23c 26.7%,#ffe656 33.3%,#ffda69 40%,#ffce79 46.7%,#ffc387 53.3%,#ffb894 60%,#ffad9f 66.7%,#ffa2aa 73.3%,#ff97b4 80%,#ff8dbd 86.7%,#ff83c6 93.3%,#ff78ce 100%)"></i><i style="top:125px;height:2px;background:linear-gradient(90deg,#e6ff66 0%,#f0ff4f 6.7%,#f8ff33 13.3%,#ff0 19.2%,#fffd11 20%,#fff140 26.7%,#ffe459 33.3%,#ffd86b 40%,#ffcc7b 46.7%,#ffc189 53.3%,#ffb695 60%,#ffaba1 66.7%,#ffa0ab 73.3%,#ff96b5 80%,#ff8bbe 86.7%,#ff81c7 93.3%,#ff77cf 100%)"></i><i style="top:127px;height:3px;background:linear-gradient(90deg,#e8ff63 0%,#f1ff4c 6.7%,#faff2e 13.3%,#ff0 18.2%,#fffb1d 20%,#ffef44 26.7%,#ffe25c 33.3%,#ffd66e 40%,#ffcb7d 46.7%,#ffbf8b 53.3%,#ffb497 60%,#ffa9a2 66.7%,#ff9fad 73.3%,#ff94b6 80%,#ff8ac0 86.7%,#ff80c8 93.3%,#ff75d0 100%)"></i><i style="top:130px;height:2px;background:linear-gradient(90deg,#e9ff60 0%,#f3ff48 6.7%,#fbff28 13.3%,#ff0 17.2%,#fffa25 20%,#ffed48 26.7%,#ffe15f 33.3%,#ffd570 40%,#ffc97f 46.7%,#ffbe8d 53.3%,#ffb399 60%,#ffa8a4 66.7%,#ff9dae 73.3%,#ff93b8 80%,#ff88c1 86.7%,#ff7ec9 93.3%,#ff74d1 100%)"></i><i style="top:132px;height:3px;background:linear-gradient(90deg,#ebff5d 0%,#f4ff44 6.7%,#fcff22 13.3%,#ff0 16.2%,#fff82c 20%,#ffeb4c 26.7%,#ffdf61 33.3%,#ffd373 40%,#ffc781 46.7%,#ffbc8f 53.3%,#ffb19b 60%,#ffa6a6 66.7%,#ff9cb0 73.3%,#ff91b9 80%,#ff87c2 86.7%,#ff7ccb 93.3%,#ff72d3 100%)"></i><i style="top:135px;height:2px;background:linear-gradient(90deg,#ecff59 0%,#f5ff40 6.7%,#fdff1a 13.3%,#ff0 15.3%,#fff633 20%,#ffe950 26.7%,#ffdd64 33.3%,#ffd175 40%,#ffc683 46.7%,#ffba90 53.3%,#ffaf9c 60%,#ffa5a7 66.7%,#ff9ab1 73.3%,#ff90bb 80%,#ff85c3 86.7%,#ff7bcc 93.3%,#ff70d4 100%)"></i><i style="top:137px;height:3px;background:linear-gradient(90deg,#eeff56 0%,#f6ff3c 6.7%,#feff10 13.3%,#ff0 14.3%,#fff438 20%,#ffe753 26.7%,#ffdb67 33.3%,#ffcf77 40%,#ffc485 46.7%,#ffb992 53.3%,#ffae9e 60%,#ffa3a9 66.7%,#ff99b3 73.3%,#ff8ebc 80%,#ff84c5 86.7%,#ff79cd 93.3%,#ff6fd5 100%)"></i><i style="top:140px;height:2px;background:linear-gradient(90deg,#efff52 0%,#f7ff37 6.7%,#ff0 13.3%,#ffff01 13.3%,#fff23d 20%,#ffe656 26.7%,#ffd969 33.3%,#ffce79 40%,#ffc287 46.7%,#ffb794 53.3%,#ffaca0 60%,#ffa2aa 66.7%,#ff97b4 73.3%,#ff8dbd 80%,#ff82c6 86.7%,#ff78ce 93.3%,#ff6dd6 100%)"></i><i style="top:142px;height:3px;background:linear-gradient(90deg,#f0ff4f 0%,#f9ff32 6.7%,#ff0 12.3%,#fffd14 13.3%,#fff041 20%,#ffe459 26.7%,#ffd86c 33.3%,#ffcc7c 40%,#ffc189 46.7%,#ffb696 53.3%,#ffaba1 60%,#ffa0ac 66.7%,#ff96b5 73.3%,#ff8bbf 80%,#ff81c7 86.7%,#ff76cf 93.3%,#ff6cd7 100%)"></i><i style="top:145px;height:3px;background:linear-gradient(90deg,#f2ff4b 0%,#faff2d 6.7%,#ff0 11.3%,#fffb1f 13.3%,#ffee45 20%,#ffe25c 26.7%,#ffd66e 33.3%,#ffca7e 40%,#ffbf8b 46.7%,#ffb498 53.3%,#ffa9a3 60%,#ff9fad 66.7%,#ff94b7 73.3%,#ff8ac0 80%,#ff7fc8 86.7%,#ff75d0 93.3%,#ff6ad8 100%)"></i><i style="top:148px;height:2px;background:linear-gradient(90deg,#f3ff47 0%,#fbff27 6.7%,#ff0 10.3%,#fff927 13.3%,#ffec49 20%,#ffe05f 26.7%,#ffd471 33.3%,#ffc980 40%,#ffbd8d 46.7%,#ffb299 53.3%,#ffa8a4 60%,#ff9daf 66.7%,#ff92b8 73.3%,#ff88c1 80%,#ff7eca 86.7%,#ff73d2 93.3%,#ff68d9 100%)"></i><i style="top:150px;height:3px;background:linear-gradient(90deg,#f4ff43 0%,#fcff20 6.7%,#ff0 9.4%,#fff72e 13.3%,#ffeb4d 20%,#ffde62 26.7%,#ffd273 33.3%,#ffc782 40%,#ffbc8f 46.7%,#ffb19b 53.3%,#ffa6a6 60%,#ff9bb0 66.7%,#ff91ba 73.3%,#ff87c2 80%,#ff7ccb 86.7%,#ff72d3 93.3%,#ff67da 100%)"></i><i style="top:153px;height:2px;background:linear-gradient(90deg,#f5ff3f 0%,#fdff18 6.7%,#ff0 8.4%,#fff534 13.3%,#ffe950 20%,#ffdd65 26.7%,#ffd176 33.3%,#ffc584 40%,#ffba91 46.7%,#ffaf9d 53.3%,#ffa4a7 60%,#ff9ab1 66.7%,#ff8fbb 73.3%,#ff85c4 80%,#ff7bcc 86.7%,#ff70d4 93.3%,#ff65db 100%)"></i><i style="top:155px;height:3px;background:linear-gradient(90deg,#f7ff3b 0%,#feff0c 6.7%,#ff0 7.4%,#fff339 13.3%,#ffe754 20%,#ffdb67 26.7%,#ffcf78 33.3%,#ffc486 40%,#ffb893 46.7%,#ffae9e 53.3%,#ffa3a9 60%,#ff98b3 66.7%,#ff8ebc 73.3%,#ff83c5 80%,#ff79cd 86.7%,#ff6ed5 93.3%,#ff64dc 100%)"></i><i style="top:158px;height:2px;background:linear-gradient(90deg,#f8ff36 0%,#ff0 6.4%,#fffe06 6.7%,#fff23e 13.3%,#ffe557 20%,#ffd96a 26.7%,#ffcd7a 33.3%,#ffc288 40%,#ffb794 46.7%,#ffaca0 53.3%,#ffa1aa 60%,#ff97b4 66.7%,#ff8cbe 73.3%,#ff82c6 80%,#ff77ce 86.7%,#ff6dd6 93.3%,#ff62dd 100%)"></i><i style="top:160px;height:3px;background:linear-gradient(90deg,#f9ff31 0%,#ff0 5.4%,#fffd17 6.7%,#fff042 13.3%,#ffe35a 20%,#ffd76d 26.7%,#ffcc7c 33.3%,#ffc08a 40%,#ffb596 46.7%,#ffaaa1 53.3%,#ffa0ac 60%,#ff95b6 66.7%,#ff8bbf 73.3%,#ff80c7 80%,#ff76d0 86.7%,#ff6bd7 93.3%,#ff60df 100%)"></i><i style="top:163px;height:2px;background:linear-gradient(90deg,#faff2c 0%,#ff0 4.4%,#fffb21 6.7%,#ffee46 13.3%,#ffe15d 20%,#ffd66f 26.7%,#ffca7e 33.3%,#ffbf8c 40%,#ffb498 46.7%,#ffa9a3 53.3%,#ff9ead 60%,#ff94b7 66.7%,#ff89c0 73.3%,#ff7fc9 80%,#ff74d1 86.7%,#ff6ad8 93.3%,#ff5fe0 100%)"></i><i style="top:165px;height:3px;background:linear-gradient(90deg,#fbff26 0%,#ff0 3.4%,#fff929 6.7%,#ffec4a 13.3%,#ffe060 20%,#ffd471 26.7%,#ffc880 33.3%,#ffbd8e 40%,#ffb29a 46.7%,#ffa7a5 53.3%,#ff9daf 60%,#ff92b8 66.7%,#ff88c1 73.3%,#ff7dca 80%,#ff73d2 86.7%,#ff68d9 93.3%,#ff5de1 100%)"></i><i style="top:168px;height:2px;background:linear-gradient(90deg,#fcff1f 0%,#ff0 2.5%,#fff72f 6.7%,#ffea4e 13.3%,#ffde63 20%,#ffd274 26.7%,#ffc782 33.3%,#ffbb8f 40%,#ffb09b 46.7%,#ffa6a6 53.3%,#ff9bb0 60%,#ff91ba 66.7%,#ff86c3 73.3%,#ff7ccb 80%,#ff71d3 86.7%,#ff67db 93.3%,#ff5be2 100%)"></i><i style="top:170px;height:3px;background:linear-gradient(90deg,#fdff16 0%,#ff0 1.5%,#fff535 6.7%,#ffe851 13.3%,#ffdc65 20%,#ffd076 26.7%,#ffc584 33.3%,#ffba91 40%,#ffaf9d 46.7%,#ffa4a8 53.3%,#ff99b2 60%,#ff8fbb 66.7%,#ff85c4 73.3%,#ff7acc 80%,#ff70d4 86.7%,#ff65dc 93.3%,#ff5ae3 100%)"></i><i style="top:173px;height:2px;background:linear-gradient(90deg,#feff09 0%,#ff0 0.5%,#fff33a 6.7%,#ffe655 13.3%,#ffda68 20%,#ffcf78 26.7%,#ffc386 33.3%,#ffb893 40%,#ffad9f 46.7%,#ffa2a9 53.3%,#ff98b3 60%,#ff8ebd 66.7%,#ff83c5 73.3%,#ff79cd 80%,#ff6ed5 86.7%,#ff63dd 93.3%,#ff58e4 100%)"></i><i style="top:175px;height:3px;background:linear-gradient(90deg,#fffe0b 0%,#fff13f 6.7%,#ffe558 13.3%,#ffd96b 20%,#ffcd7a 26.7%,#ffc288 33.3%,#ffb695 40%,#ffaca0 46.7%,#ffa1ab 53.3%,#ff96b5 60%,#ff8cbe 66.7%,#ff82c6 73.3%,#ff77cf 80%,#ff6dd6 86.7%,#ff62de 93.3%,#ff56e5 100%)"></i><i style="top:178px;height:2px;background:linear-gradient(90deg,#fffc1a 0%,#ffef43 6.7%,#ffe35b 13.3%,#ffd76d 20%,#ffcb7d 26.7%,#ffc08a 33.3%,#ffb597 40%,#ffaaa2 46.7%,#ff9fac 53.3%,#ff95b6 60%,#ff8abf 66.7%,#ff80c8 73.3%,#ff76d0 80%,#ff6bd8 86.7%,#ff60df 93.3%,#ff55e6 100%)"></i><i style="top:180px;height:3px;background:linear-gradient(90deg,#fffa23 0%,#ffed47 6.7%,#ffe15e 13.3%,#ffd570 20%,#ffca7f 26.7%,#ffbe8c 33.3%,#ffb398 40%,#ffa8a3 46.7%,#ff9eae 53.3%,#ff93b7 60%,#ff89c0 66.7%,#ff7fc9 73.3%,#ff74d1 80%,#ff69d9 86.7%,#ff5ee0 93.3%,#ff53e7 100%)"></i><i style="top:183px;height:2px;background:linear-gradient(90deg,#fff82a 0%,#ffec4b 6.7%,#ffdf61 13.3%,#ffd372 20%,#ffc881 26.7%,#ffbd8e 33.3%,#ffb29a 40%,#ffa7a5 46.7%,#ff9caf 53.3%,#ff92b9 60%,#ff87c2 66.7%,#ff7dca 73.3%,#ff72d2 80%,#ff68da 86.7%,#ff5de1 93.3%,#ff51e8 100%)"></i><i style="top:185px;height:3px;background:linear-gradient(90deg,#fff631 0%,#ffea4f 6.7%,#ffde63 13.3%,#ffd274 20%,#ffc683 26.7%,#ffbb90 33.3%,#ffb09c 40%,#ffa5a7 46.7%,#ff9bb1 53.3%,#ff90ba 60%,#ff86c3 66.7%,#ff7bcb 73.3%,#ff71d3 80%,#ff66db 86.7%,#ff5be2 93.3%,#ff4fe9 100%)"></i><i style="top:188px;height:3px;background:linear-gradient(90deg,#fff436 0%,#ffe852 6.7%,#ffdc66 13.3%,#ffd077 20%,#ffc485 26.7%,#ffb992 33.3%,#ffae9d 40%,#ffa4a8 46.7%,#ff99b2 53.3%,#ff8fbb 60%,#ff84c4 66.7%,#ff7acd 73.3%,#ff6fd4 80%,#ff65dc 86.7%,#ff59e3 93.3%,#ff4dea 100%)"></i><i style="top:191px;height:2px;background:linear-gradient(90deg,#fff33b 0%,#ffe655 6.7%,#ffda69 13.3%,#ffce79 20%,#ffc387 26.7%,#ffb893 33.3%,#ffad9f 40%,#ffa2aa 46.7%,#ff98b4 53.3%,#ff8dbd 60%,#ff83c6 66.7%,#ff78ce 73.3%,#ff6ed6 80%,#ff63dd 86.7%,#ff58e4 93.3%,#ff4beb 100%)"></i><i style="top:193px;height:3px;background:linear-gradient(90deg,#fff140 0%,#ffe458 6.7%,#ffd86b 13.3%,#ffcd7b 20%,#ffc189 26.7%,#ffb695 33.3%,#ffaba1 40%,#ffa1ab 46.7%,#ff96b5 53.3%,#ff8cbe 60%,#ff81c7 66.7%,#ff77cf 73.3%,#ff6cd7 80%,#ff61de 86.7%,#ff56e5 93.3%,#ff4aec 100%)"></i><i style="top:196px;height:2px;background:linear-gradient(90deg,#ffef44 0%,#ffe25b 6.7%,#ffd66e 13.3%,#ffcb7d 20%,#ffbf8b 26.7%,#ffb497 33.3%,#ffaaa2 40%,#ff9fad 46.7%,#ff95b6 53.3%,#ff8abf 60%,#ff80c8 66.7%,#ff75d0 73.3%,#ff6bd8 80%,#ff60df 86.7%,#ff54e6 93.3%,#ff48ec 100%)"></i><i style="top:198px;height:3px;background:linear-gradient(90deg,#ffed48 0%,#ffe15e 6.7%,#ffd570 13.3%,#ffc97f 20%,#ffbe8d 26.7%,#ffb399 33.3%,#ffa8a4 40%,#ff9dae 46.7%,#ff93b8 53.3%,#ff89c1 60%,#ff7ec9 66.7%,#ff74d1 73.3%,#ff69d9 80%,#ff5ee0 86.7%,#ff52e7 93.3%,#ff46ed 100%)"></i><i style="top:201px;height:2px;background:linear-gradient(90deg,#ffeb4c 0%,#ffdf61 6.7%,#ffd372 13.3%,#ffc781 20%,#ffbc8e 26.7%,#ffb19a 33.3%,#ffa6a5 40%,#ff9cb0 46.7%,#ff91b9 53.3%,#ff87c2 60%,#ff7dca 66.7%,#ff72d2 73.3%,#ff67da 80%,#ff5ce1 86.7%,#ff51e8 93.3%,#f4e 100%)"></i><i style="top:203px;height:3px;background:linear-gradient(90deg,#ffe94f 0%,#ffdd64 6.7%,#ffd175 13.3%,#ffc683 20%,#ffbb90 26.7%,#ffb09c 33.3%,#ffa5a7 40%,#ff9ab1 46.7%,#ff90ba 53.3%,#ff85c3 60%,#ff7bcc 66.7%,#ff71d4 73.3%,#ff66db 80%,#ff5be2 86.7%,#ff4fe9 93.3%,#ff42ef 100%)"></i><i style="top:206px;height:2px;background:linear-gradient(90deg,#ffe753 0%,#ffdb67 6.7%,#ffd077 13.3%,#ffc485 20%,#ffb992 26.7%,#ffae9e 33.3%,#ffa3a8 40%,#ff99b2 46.7%,#ff8ebc 53.3%,#ff84c5 60%,#ff7acd 66.7%,#ff6fd5 73.3%,#ff64dc 80%,#ff59e3 86.7%,#ff4dea 93.3%,#ff40f0 100%)"></i><i style="top:208px;height:3px;background:linear-gradient(90deg,#ffe656 0%,#ffda69 6.7%,#ffce79 13.3%,#ffc287 20%,#ffb794 26.7%,#ffac9f 33.3%,#ffa2aa 40%,#ff97b4 46.7%,#ff8dbd 53.3%,#ff82c6 60%,#ff78ce 66.7%,#ff6dd6 73.3%,#ff63dd 80%,#ff57e4 86.7%,#ff4beb 93.3%,#ff3df1 100%)"></i><i style="top:211px;height:2px;background:linear-gradient(90deg,#ffe459 0%,#ffd86c 6.7%,#ffcc7b 13.3%,#ffc189 20%,#ffb696 26.7%,#ffaba1 33.3%,#ffa0ab 40%,#ff96b5 46.7%,#ff8bbe 53.3%,#ff81c7 60%,#ff76cf 66.7%,#ff6cd7 73.3%,#ff61de 80%,#ff55e5 86.7%,#ff49ec 93.3%,#ff3bf2 100%)"></i><i style="top:213px;height:3px;background:linear-gradient(90deg,#ffe25c 0%,#ffd66e 6.7%,#ffca7e 13.3%,#ffbf8b 20%,#ffb497 26.7%,#ffa9a3 33.3%,#ff9fad 40%,#ff94b7 46.7%,#ff8ac0 53.3%,#ff7fc8 60%,#ff75d0 66.7%,#ff6ad8 73.3%,#ff5fdf 80%,#ff54e6 86.7%,#ff47ed 93.3%,#ff39f3 100%)"></i><i style="top:216px;height:2px;background:linear-gradient(90deg,#ffe05f 0%,#ffd471 6.7%,#ffc980 13.3%,#ffbd8d 20%,#ffb299 26.7%,#ffa8a4 33.3%,#ff9dae 40%,#ff93b8 46.7%,#ff88c1 53.3%,#ff7eca 60%,#ff73d2 66.7%,#ff69d9 73.3%,#ff5ee0 80%,#ff52e7 86.7%,#ff45ee 93.3%,#ff37f4 100%)"></i><i style="top:218px;height:3px;background:linear-gradient(90deg,#ffde62 0%,#ffd373 6.7%,#ffc782 13.3%,#ffbc8f 20%,#ffb19b 26.7%,#ffa6a6 33.3%,#ff9cb0 40%,#ff91b9 46.7%,#ff87c2 53.3%,#ff7ccb 60%,#ff72d3 66.7%,#ff67da 73.3%,#ff5ce1 80%,#ff50e8 86.7%,#ff43ef 93.3%,#ff34f5 100%)"></i><i style="top:221px;height:2px;background:linear-gradient(90deg,#ffdd65 0%,#ffd175 6.7%,#ffc584 13.3%,#ffba91 20%,#ffaf9c 26.7%,#ffa5a7 33.3%,#ff9ab1 40%,#ff90bb 46.7%,#ff85c4 53.3%,#ff7bcc 60%,#ff70d4 66.7%,#ff65db 73.3%,#ff5ae2 80%,#ff4ee9 86.7%,#ff41ef 93.3%,#ff32f6 100%)"></i><i style="top:223px;height:3px;background:linear-gradient(90deg,#ffdb67 0%,#ffcf78 6.7%,#ffc486 13.3%,#ffb992 20%,#ffae9e 26.7%,#ffa3a9 33.3%,#ff98b3 40%,#ff8ebc 46.7%,#ff84c5 53.3%,#ff79cd 60%,#ff6fd5 66.7%,#ff64dc 73.3%,#ff59e3 80%,#ff4cea 86.7%,#ff3ff0 93.3%,#ff2ff6 100%)"></i><i style="top:226px;height:3px;background:linear-gradient(90deg,#ffd96a 0%,#ffcd7a 6.7%,#ffc288 13.3%,#ffb794 20%,#ffaca0 26.7%,#ffa1aa 33.3%,#ff97b4 40%,#ff8cbd 46.7%,#ff82c6 53.3%,#ff78ce 60%,#ff6dd6 66.7%,#ff62dd 73.3%,#ff57e4 80%,#ff4beb 86.7%,#ff3df1 93.3%,#ff2cf7 100%)"></i><i style="top:229px;height:2px;background:linear-gradient(90deg,#ffd76c 0%,#ffcc7c 6.7%,#ffc08a 13.3%,#ffb596 20%,#ffaaa1 26.7%,#ffa0ac 33.3%,#ff95b6 40%,#ff8bbf 46.7%,#ff81c7 53.3%,#ff76cf 60%,#ff6bd7 66.7%,#ff61de 73.3%,#ff55e5 80%,#ff49ec 86.7%,#ff3bf2 93.3%,#ff29f8 100%)"></i><i style="top:231px;height:3px;background:linear-gradient(90deg,#ffd66f 0%,#ffca7e 6.7%,#ffbf8c 13.3%,#ffb498 20%,#ffa9a3 26.7%,#ff9ead 33.3%,#ff94b7 40%,#ff89c0 46.7%,#ff7fc9 53.3%,#ff75d1 60%,#ff6ad8 66.7%,#ff5fe0 73.3%,#ff53e6 80%,#ff47ed 86.7%,#ff38f3 93.3%,#ff26f9 100%)"></i><i style="top:234px;height:2px;background:linear-gradient(90deg,#ffd471 0%,#ffc880 6.7%,#ffbd8d 13.3%,#ffb299 20%,#ffa7a5 26.7%,#ff9daf 33.3%,#ff92b8 40%,#ff88c1 46.7%,#ff7dca 53.3%,#ff73d2 60%,#ff68d9 66.7%,#ff5de1 73.3%,#ff52e7 80%,#ff45ee 86.7%,#ff36f4 93.3%,#ff23fa 100%)"></i><i style="top:236px;height:3px;background:linear-gradient(90deg,#ffd274 0%,#ffc782 6.7%,#ffbb8f 13.3%,#ffb09b 20%,#ffa6a6 26.7%,#ff9bb0 33.3%,#ff91ba 40%,#ff86c3 46.7%,#ff7ccb 53.3%,#ff71d3 60%,#ff67da 66.7%,#ff5ce2 73.3%,#ff50e8 80%,#ff43ef 86.7%,#ff34f5 93.3%,#ff1ffb 100%)"></i><i style="top:239px;height:2px;background:linear-gradient(90deg,#ffd076 0%,#ffc584 6.7%,#ffba91 13.3%,#ffaf9d 20%,#ffa4a8 26.7%,#ff9ab2 33.3%,#ff8fbb 40%,#ff85c4 46.7%,#ff7acc 53.3%,#ff70d4 60%,#ff65dc 66.7%,#ff5ae3 73.3%,#ff4ee9 80%,#ff41f0 86.7%,#ff31f6 93.3%,#ff1cfc 100%)"></i><i style="top:241px;height:3px;background:linear-gradient(90deg,#ffcf78 0%,#ffc386 6.7%,#ffb893 13.3%,#ffad9e 20%,#ffa3a9 26.7%,#ff98b3 33.3%,#ff8ebc 40%,#ff83c5 46.7%,#ff79cd 53.3%,#ff6ed5 60%,#ff63dd 66.7%,#ff58e4 73.3%,#ff4cea 80%,#ff3ff1 86.7%,#ff2ff7 93.3%,#ff17fc 100%)"></i><i style="top:244px;height:2px;background:linear-gradient(90deg,#ffcd7a 0%,#ffc288 6.7%,#ffb795 13.3%,#ffaca0 20%,#ffa1ab 26.7%,#ff97b4 33.3%,#ff8cbe 40%,#ff82c6 46.7%,#ff77cf 53.3%,#ff6dd6 60%,#ff62de 66.7%,#ff56e5 73.3%,#ff4aeb 80%,#ff3cf2 86.7%,#ff2cf8 93.3%,#ff12fd 100%)"></i><i style="top:246px;height:3px;background:linear-gradient(90deg,#ffcb7c 0%,#ffc08a 6.7%,#ffb596 13.3%,#ffaaa2 20%,#ff9fac 26.7%,#ff95b6 33.3%,#ff8bbf 40%,#ff80c8 46.7%,#ff76d0 53.3%,#ff6bd7 60%,#ff60df 66.7%,#ff55e6 73.3%,#ff48ec 80%,#ff3af2 86.7%,#ff29f8 93.3%,#ff0afe 100%)"></i><i style="top:249px;height:2px;background:linear-gradient(90deg,#ffca7f 0%,#ffbe8c 6.7%,#ffb398 13.3%,#ffa9a3 20%,#ff9eae 26.7%,#ff93b7 33.3%,#ff89c0 40%,#ff7fc9 46.7%,#ff74d1 53.3%,#ff6ad9 60%,#ff5ee0 66.7%,#ff53e7 73.3%,#ff46ed 80%,#ff38f3 86.7%,#ff26f9 93.3%,#ff02ff 100%)"></i><i style="top:251px;height:3px;background:linear-gradient(90deg,#ffc881 0%,#ffbd8e 6.7%,#ffb29a 13.3%,#ffa7a5 20%,#ff9caf 26.7%,#ff92b9 33.3%,#ff88c2 40%,#ff7dca 46.7%,#ff73d2 53.3%,#ff68da 60%,#ff5de1 66.7%,#ff51e8 73.3%,#f4e 80%,#ff36f4 86.7%,#ff22fa 93.3%,#f0f 100%)"></i><b style="left:0px;top:0px;width:255px;height:1px;opacity:0.80"></b><b style="left:0px;top:253px;width:255px;height:1px;opacity:0.20"></b><b style="left:0px;top:0px;width:1px;height:254px;opacity:0.70"></b><b style="left:254px;top:0px;width:1px;height:254px;opacity:0.75"></b><u style="background:repeating-linear-gradient(90deg,rgba(255,255,255,0.050) 0,rgba(255,255,255,0.050) 0.6px,rgba(255,255,255,0) 0.6px,rgba(255,255,255,0) 2.536px),repeating-linear-gradient(0deg,rgba(255,255,255,0.050) 0,rgba(255,255,255,0.050) 0.6px,rgba(255,255,255,0) 0.6px,rgba(255,255,255,0) 2.530px)"></u></div>
<svg width="685" height="364" viewBox="0 0 685 364" style="position:absolute;left:0;top:0"><defs><linearGradient id="gl" x1="0" y1="0" x2="1" y2="0"><stop offset="0.0000" stop-color="#f0f"/><stop offset="0.0417" stop-color="#ff3ff1"/><stop offset="0.0833" stop-color="#ff5be2"/><stop offset="0.1250" stop-color="#ff71d3"/><stop offset="0.1667" stop-color="#ff84c4"/><stop offset="0.2083" stop-color="#ff96b5"/><stop offset="0.2500" stop-color="#ffa6a6"/><stop offset="0.2917" stop-color="#ffb695"/><stop offset="0.3333" stop-color="#ffc584"/><stop offset="0.3750" stop-color="#ffd471"/><stop offset="0.4167" stop-color="#ffe35b"/><stop offset="0.4583" stop-color="#fff13f"/><stop offset="0.5000" stop-color="#ff0"/><stop offset="0.5417" stop-color="#f7ff38"/><stop offset="0.5833" stop-color="#efff53"/><stop offset="0.6250" stop-color="#e5ff68"/><stop offset="0.6667" stop-color="#dcff7c"/><stop offset="0.7083" stop-color="#d1ff8d"/><stop offset="0.7500" stop-color="#c4ff9e"/><stop offset="0.7917" stop-color="#b6ffaf"/><stop offset="0.8333" stop-color="#a6ffbf"/><stop offset="0.8750" stop-color="#93ffcf"/><stop offset="0.9167" stop-color="#7cffdf"/><stop offset="0.9583" stop-color="#5affef"/><stop offset="1.0000" stop-color="#0ff"/></linearGradient></defs><path d="M42.60 52.00V327.80" fill="none" stroke="#555" stroke-width="1.00"/><path d="M43.10 327.30H335.00" fill="none" stroke="#555" stroke-width="1.00"/><path d="M42.60 65.60h-4.60M42.60 127.55h-4.60M42.60 189.50h-4.60M42.60 251.45h-4.60M42.60 313.40h-4.60M57.40 327.30v4.60M123.15 327.30v4.60M188.90 327.30v4.60M254.65 327.30v4.60M320.40 327.30v4.60" fill="none" stroke="#555" stroke-width="0.55"/><rect x="189.80" y="18.10" width="80.20" height="16.60" fill="url(#gl)"/><path d="M209.30 18.10v3.30M209.30 34.70v-3.30M233.00 18.10v3.30M233.00 34.70v-3.30M255.50 18.10v3.30M255.50 34.70v-3.30" fill="none" stroke="#fff" stroke-width="0.80" opacity="1.00"/><path d="M406.50 49.30V327.95" fill="none" stroke="#7c7c7c" stroke-width="1.00"/><path d="M407.00 327.45H685.00" fill="none" stroke="#666" stroke-width="1.00"/><path d="M406.50 62.90h-4.60M406.50 125.50h-4.60M406.50 188.15h-4.60M406.50 250.80h-4.60M406.50 313.40h-4.60M420.40 327.45v4.60M483.05 327.45v4.60M545.70 327.45v4.60M608.35 327.45v4.60M671.00 327.45v4.60" fill="none" stroke="#555" stroke-width="0.55"/><rect x="535.70" y="18.10" width="79.60" height="16.60" fill="url(#gl)"/><path d="M562.50 18.10v3.30M562.50 34.70v-3.30M590.00 18.10v3.30M590.00 34.70v-3.30" fill="none" stroke="#fff" stroke-width="0.80" opacity="1.00"/></svg>
<div class="tx">
<svg class="t" width="685" height="364" style="overflow:visible"><text transform="translate(1.51,17.12) rotate(0.03) scale(0.9580,1)" font-family="Liberation Sans" font-weight="bold" font-size="17.4" fill="#000" stroke="#000" stroke-width="0.6" stroke-linejoin="round">a</text></svg>
<svg class="t" width="685" height="364" style="overflow:visible"><text transform="translate(351.81,12.64) rotate(0.03) scale(1.0759,1)" font-family="Liberation Sans" font-weight="bold" font-size="18" fill="#000" stroke="#000" stroke-width="0.6" stroke-linejoin="round">b</text></svg>
<div class="t" style="font-size:11.4px;transform:translate(115.85px,15.02px) rotate(0.03deg) scaleX(1.1264);">Invertebrate</div>
<div class="t" style="font-size:11.4px;transform:translate(116.21px,30.04px) rotate(0.03deg) scaleX(1.0908);">richness</div>
<div class="t" style="font-size:11.4px;transform:translate(482.30px,15.00px) rotate(0.03deg) scaleX(1.0361);">Fish</div>
<div class="t" style="font-size:11.4px;transform:translate(482.29px,30.01px) rotate(0.03deg) scaleX(1.1105);">richness</div>
<div class="t" style="font-size:10.3px;transform:translate(203.58px,41.24px) rotate(0.03deg) scaleX(0.9048);">15</div>
<div class="t" style="font-size:10.3px;transform:translate(227.21px,41.19px) rotate(0.03deg) scaleX(1.0722);">20</div>
<div class="t" style="font-size:10.3px;transform:translate(249.77px,41.21px) rotate(0.03deg) scaleX(1.0359);">25</div>
<div class="t" style="font-size:10.3px;transform:translate(557.27px,41.30px) rotate(0.03deg) scaleX(1.1016);">20</div>
<div class="t" style="font-size:10.3px;transform:translate(583.93px,41.14px) rotate(0.03deg) scaleX(1.1588);">30</div>
<div class="t" style="font-size:10.3px;transform:translate(22.59px,61.53px) rotate(0.03deg) scaleX(0.9851);">16</div>
<div class="t" style="font-size:10.3px;transform:translate(27.74px,123.51px) rotate(0.03deg) scaleX(1.0678);">8</div>
<div class="t" style="font-size:10.3px;transform:translate(27.20px,185.35px) rotate(0.03deg) scaleX(1.1200);">4</div>
<div class="t" style="font-size:10.3px;transform:translate(27.63px,247.14px) rotate(0.03deg) scaleX(1.1200);">2</div>
<div class="t" style="font-size:10.3px;transform:translate(28.65px,309.36px) rotate(0.03deg) scaleX(0.9000);">1</div>
<div class="t" style="font-size:10.3px;transform:translate(54.09px,336.11px) rotate(0.03deg) scaleX(0.9000);">1</div>
<div class="t" style="font-size:10.3px;transform:translate(120.06px,336.14px) rotate(0.03deg) scaleX(1.0842);">2</div>
<div class="t" style="font-size:10.3px;transform:translate(185.65px,336.19px) rotate(0.03deg) scaleX(1.0771);">5</div>
<div class="t" style="font-size:10.3px;transform:translate(248.62px,336.18px) rotate(0.03deg) scaleX(0.9940);">13</div>
<div class="t" style="font-size:10.3px;transform:translate(313.88px,336.21px) rotate(0.03deg) scaleX(1.1298);">30</div>
<div class="t" style="font-size:11.4px;transform:translate(141.17px,352.45px) rotate(0.03deg) scaleX(1.0942);">Temperature (°C)</div>
<div class="t" style="font-size:11.4px;transform:translate(2.31px,232.74px) rotate(-89.97deg) scaleX(1.0991);">Oxygen <span style="letter-spacing:-0.25px">(mg l<sup>−1</sup>)</span></div>
<div class="t" style="font-size:10.3px;transform:translate(377.14px,58.33px) rotate(0.03deg) scaleX(1.0081);">1.49</div>
<div class="t" style="font-size:10.3px;transform:translate(375.50px,120.62px) rotate(0.03deg) scaleX(1.0966);">0.43</div>
<div class="t" style="font-size:10.3px;transform:translate(378.03px,183.62px) rotate(0.03deg) scaleX(0.9693);">0.12</div>
<div class="t" style="font-size:10.3px;transform:translate(374.58px,246.38px) rotate(0.03deg) scaleX(1.1295);">0.04</div>
<div class="t" style="font-size:10.3px;transform:translate(376.87px,309.23px) rotate(0.03deg) scaleX(1.0182);">0.01</div>
<div class="t" style="font-size:10.3px;transform:translate(409.89px,336.24px) rotate(0.03deg) scaleX(1.0320);">0.01</div>
<div class="t" style="font-size:10.3px;transform:translate(471.49px,336.29px) rotate(0.03deg) scaleX(1.1126);">0.03</div>
<div class="t" style="font-size:10.3px;transform:translate(533.95px,336.19px) rotate(0.03deg) scaleX(1.1460);">0.06</div>
<div class="t" style="font-size:10.3px;transform:translate(598.46px,336.30px) rotate(0.03deg) scaleX(0.9891);">0.16</div>
<div class="t" style="font-size:10.3px;transform:translate(659.61px,336.26px) rotate(0.03deg) scaleX(1.1182);">0.40</div>
<div class="t" style="font-size:11.4px;transform:translate(482.88px,353.14px) rotate(0.03deg) scaleX(1.1116);">Fine sediment fraction</div>
<div class="t" style="font-size:11.4px;transform:translate(354.77px,243.74px) rotate(-89.97deg) scaleX(1.1160);">Flow velocity <span style="letter-spacing:-0.45px">(m s<sup>−1</sup>)</span></div>
</div>
</body></html>
